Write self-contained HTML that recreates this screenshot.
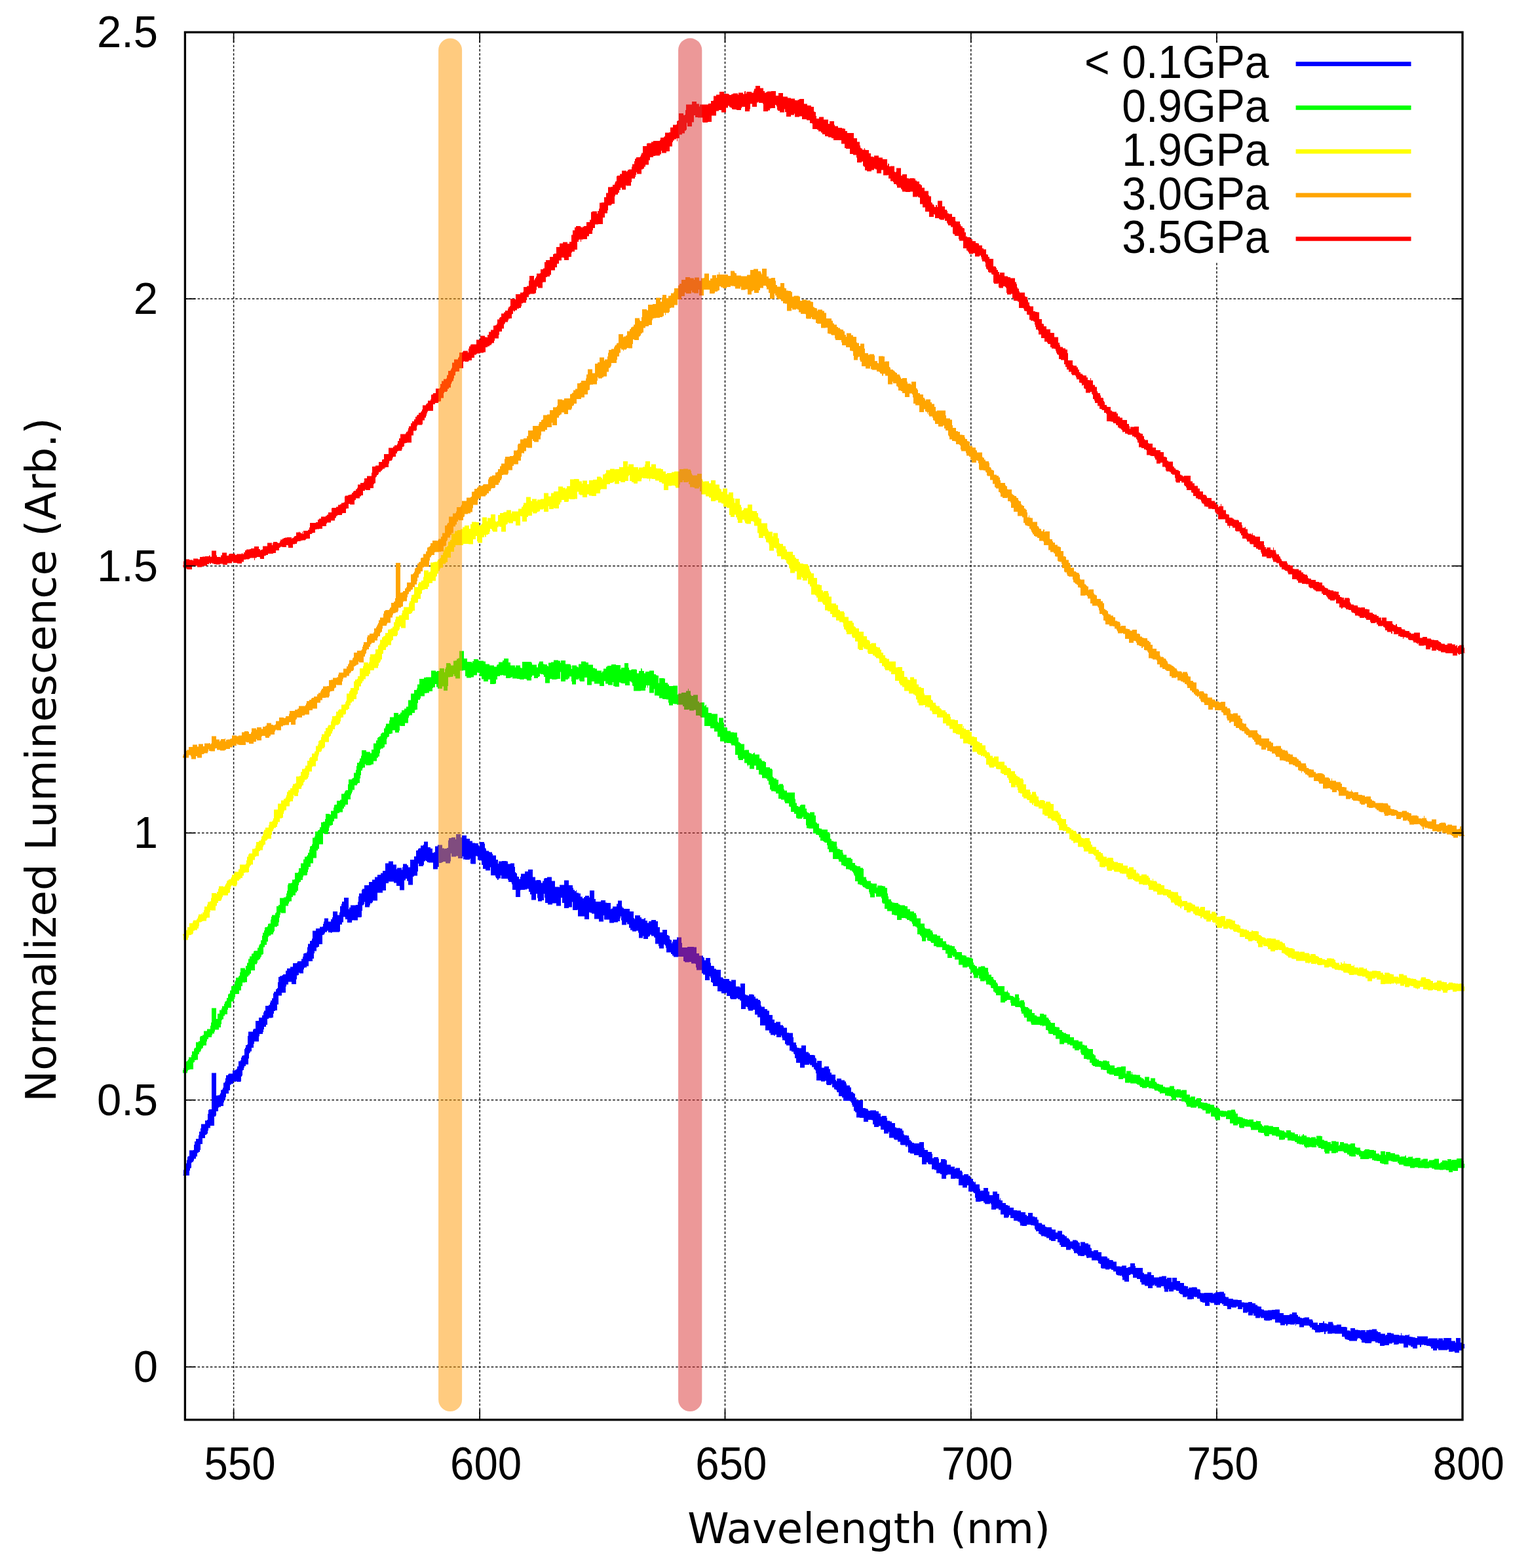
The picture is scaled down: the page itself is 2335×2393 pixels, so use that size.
<!DOCTYPE html>
<html lang="en"><head><meta charset="utf-8"><title>Normalized Luminescence vs Wavelength</title>
<style>html,body{margin:0;padding:0;background:#fff}body{width:2335px;height:2393px;overflow:hidden;position:relative}svg{display:block}.t{font-family:"Liberation Sans",Arial,Helvetica,sans-serif;fill:#000}.l{font-family:"DejaVu Sans","Liberation Sans",Verdana,sans-serif;fill:#000}</style></head><body>
<svg width="2335" height="2393" viewBox="0 0 2335 2393" role="img" aria-label="Normalized luminescence spectra at five pressures">
<rect x="0" y="0" width="2335" height="2393" fill="#fff"/>
<g stroke="#141414" stroke-width="1.5" stroke-dasharray="3.6 2.8" fill="none">
<line x1="356.6" y1="49.2" x2="356.6" y2="2166.8"/>
<line x1="732.2" y1="49.2" x2="732.2" y2="2166.8"/>
<line x1="1106.5" y1="49.2" x2="1106.5" y2="2166.8"/>
<line x1="1481.8" y1="49.2" x2="1481.8" y2="2166.8"/>
<line x1="1856.9" y1="49.2" x2="1856.9" y2="2166.8"/>
<line x1="282.4" y1="2086.2" x2="2232.0" y2="2086.2"/>
<line x1="282.4" y1="1678.8" x2="2232.0" y2="1678.8"/>
<line x1="282.4" y1="1271.3" x2="2232.0" y2="1271.3"/>
<line x1="282.4" y1="863.7" x2="2232.0" y2="863.7"/>
<line x1="282.4" y1="456.1" x2="2232.0" y2="456.1"/>
</g>
<rect x="1650" y="65.5" width="570" height="335.5" fill="#fff"/>
<g fill="none" stroke-width="6.7" stroke-linejoin="bevel" stroke-linecap="butt">
<line x1="1977.6" y1="97.7" x2="2153.5" y2="97.7" stroke="#0000ff"/>
<path fill="#0000ff" stroke="none" d="M279 1793.5h1v-8h1v-2.5h1v-1.5h1v-.5h1v-5.5h1v-5h1v-5h1v-1h2v-9h6v-.5h1v-8h1v-5h2v-4h4v-5.5h1v-5.5h2v-5h1v-6.5h6v-5.5h3v-1h1v-9h1v-6h1v-1h4v-55.5h7v34.5h2v-.5h3v-1h1v-2h1v-5h2v-1h1v-2.5h1v-7.5h2v-2h1v-5h1v-4.5h3v-1.5h1v-1h6v-5h4v-1h2v-1.5h1v-3.5h2v-8h3v-1.5h1v-4h1v-2.5h1v-.5h1v-.5h2v-9.5h1v-2h1v-4h2v-1h1v-13h1v-6.5h7v-3h1v-1.5h3v-12h5v-5h5v-3.5h2v-4.5h1v-2.5h2v-7.5h5v-1.5h2v-3.5h1v-3h2v-3.5h2v-7.5h1v-2.5h3v-3.5h1v-1h1v-1h1v-9h1v-8h2v-1.5h3v-.5h1v-1h1v-1h4v-5.5h2v-3.5h5v-2.5h4v-5.5h6v-1h1v-2h6v-3.5h2v-3.5h1v-4.5h1v-.5h1v-.5h3v-2h1v-7h1v-5h3v-4.5h2v-.5h1v-3h1v-12h5v-3.5h6v-2.5h4v-.5h1v-4h1v-3.5h1v-5h6v5h4v-3.5h2v-3h1v-9h7v5.5h3v-4h1v-9.5h2v-3.5h1v-3.5h3v-6h7v17.5h1v-2.5h2v-3.5h8v-.5h3v-4.5h1v-8.5h1v-4.5h4v-5.5h1v-1.5h3v-5.5h7v-5h5v-3.5h4v-4h4v-3.5h5v-2.5h3v-3.5h4v-11.5h5v-3h7v5h5v7h1v-2h7v3h1v-4h1v-5h6v2h2v3h3v-11.5h6v-5h3v-9h2v-.5h1v-2h1v-1h3v-4h4v-1.5h1v-4.5h6v8.5h4v2h3v6.5h2v-1h2v-9h4v-2h7v5h3v1h1v-.5h3v-1h2v-11.5h1v-3.5h4v-1h6v3h1v-8h7v5h2v-3h7v5h5v3.5h4v3h4v.5h5v3h1v2h1v-7h7v2.5h1v6.5h1v1.5h1v3h4v1.5h1v.5h4v2.5h1v2.5h5v6.5h3v6h1v-3.5h5v-.5h7v.5h2v4h4v-1h6v5.5h1v8h1v1h1v1h1v4.5h1v.5h2v3.5h2v-3.5h1v-4.5h6v-3.5h5v-3h7v11.5h4v5h2v-.5h6v1.5h1v3h2v-3h2v-3.5h1v-1h4v-1.5h7v6h5v9h6v.5h1v-3.5h7v-7h7v7.5h6v4h1v3h2v2h2v-1.5h1v4h3v1h3v5h3v2.5h2v-2h2v-2h6v2.5h1v-10.5h7v13h2v4h8v-2h7v3.5h2v.5h6v9.5h1v-1h2v-3h6v-4h2v-5h6v9h1v2h2v1.5h9v4h6v10h1v1.5h1v-5.5h8v3h2v2.5h4v-1h1v-.5h1v4h3v3.5h2v-2.5h4v-2h7v2h3v9h3v8h4v-4h7v8h2v1h1v.5h1v5h1v1h2v5h1v-2.5h1v-3h6v-3.5h7v8.5h1v7h8v-1h10v.5h4v9.5h4v3.5h6v2.5h1v.5h1v4h2v-3.5h7v7.5h1v4.5h4v.5h1v4h3v1.5h7v11.5h3v1h1v1.5h9v3h2v1h1v-2.5h7v10h6v1.5h1v-6h7v16.5h1v1h3v1h2v-2h6v.5h2v3h2v3h4v2h3v2h1v6.5h1v2h5v3.5h4v2.5h3v6.5h5v7h3v5h2v-1.5h7v5h4v1.5h1v2.5h5v7.5h3v.5h6v6.5h1v8h4v4h1v3.5h1v.5h2v.5h4v-4h7v10h4v2h2v2.5h6v.5h2v4h1v1h1v6.5h1v-3h7v10.5h4v-2h7v4h2v5.5h2v3h6v8h1v2h1v-4h7v2.5h5v2h2v3h1v3h5v3h2v7h3v1.5h1v1h2v6h2v3h1v1.5h2v-.5h7v12h4v1h3v1h1v2h2v.5h1v-1h9v1.5h4v3.5h3v4.5h2v-1h7v3h1v4.5h4v1h3v2.5h5v6.5h2v1h6v1h3v3h2v5.5h1v1.5h4v.5h3v3.5h1v3.5h2v2h2v2h3v1h8v-2h7v9h1v3h5v3h6v3h1v6.5h2v-1.5h7v2.5h1v6h2v-1h1v-4.5h7v1.5h2v7h6v3h6v3.5h1v-1.5h7v4h3v2h1v5h2v-1.5h7v2.5h3v4.5h4v4h1v.5h1v1h1v-1h1v4h6v7h1v3h1v-.5h4v-4h7v5.5h2v5.5h5v-5.5h7v3.5h3v9h1v-2.5h1v3.5h3v4h5v3h3v1h3v3h6v4h5v.5h6v2.5h7v4h2v2h1v-.5h1v-4.5h7v5.5h3v1h4v4h2v5h5v2h1v.5h4v3h2v1h8v3h1v.5h5v4.5h3v-2.5h7v5.5h3v1h1v1.5h3v3h3v1.5h1v1h1v2.5h4v-2h6v1h2v2h1v1h2v5h1v-6h7v2h5v2h3v5h1v.5h1v4h1v.5h2v-1.5h7v3h5v6.5h8v.5h1v2.5h3v2.5h5v.5h1v2h5v7h5v.5h3v-1.5h7v3.5h2v-1h2v-.5h2v-5.5h7v4h1v3h11v7.5h2v2h5v-3h6v4.5h4v3.5h8v-1h4v-1h7v4.5h1v-2h7v6.5h1v-6.5h7v5h5v3h6v4.5h3v.5h3v4h1v-2h5v-.5h7v.5h1v2.5h4v1h1v4.5h1v.5h5v-.5h13v2h1v-1.5h3v-1.5h6v-.5h7v2.5h2v5h1v.5h4v2.5h7v1.5h7v.5h6v3.5h4v.5h6v-1h6v2h5v2.5h3v2h2v.5h4v4h1v.5h3v1.5h6v-.5h6v-.5h5v-.5h7v5.5h6v3h9v-1.5h4v-2.5h7v3.5h1v.5h1v2.5h3v1.5h2v.5h2v.5h1v-1h2v-.5h7v3h5v2h1v3h7v3.5h2v-3h6v-2.5h2v3h3v.5h1v.5h2v-3h7v2.5h1v2.5h5v-1h7v3.5h7v.5h2v5h4v1h1v-4.5h7v2.5h5v.5h3v.5h1v-.5h7v3h1v-3h4v-.5h5v-1h7v3h2v1.5h4v2.5h7v2.5h1v-1h2v-3h6v1h4v2h8v1h3v-3.5h1v3.5h3v.5h2v-1h6v-1h1v3.5h3v.5h3v.5h3v1h3v-3h1v.5h15v4h1v-1h14v2.5h1v-2.5h7v3h1v-3.5h12v4.5h6v2.5h1v-7h7v7h4v2h2v7h-2v2h-1v1h-5v3.5h-7v-2h-3v.5h-6v-3.5h-2v1h-14v-2.5h-2v3h-6v-3h-3v-3h-2v-1h-5v-1h-4v-1h-1v.5h-3v3h-1v.5h-1v-3.5h-4v5.5h-7v-2.5h-3v-2h-3v-1h-1v4h-7v-6h-6v-.5h-1v1.5h-2v.5h-6v-3h-2v1.5h-5v2.5h-7v1h-7v-4h-3v-1h-4v-2h-5v.5h-1v2.5h-10v-1h-5v-4h-1v-1h-1v-1.5h-3v-.5h-1v2h-1v2.5h-12v-1.5h-2v-.5h-2v-.5h-2v-1.5h-1v-2.5h-4v-4.5h-11v-.5h-4v.5h-7v-4h-1v1h-2v3.5h-2v-3.5h-2v.5h-4v.5h-8v-3.5h-2v-1h-3v-3h-3v-2h-1v-1h-8v2.5h-7v-4.5h-5v2h-1v-3h-1v1.5h-7v-.5h-4v2h-1v.5h-1v-2.5h-1v-.5h-1v2h-7v-3.5h-1v-.5h-7v-5h-5v1.5h-3v.5h-7v-.5h-2v-3.5h-5v-2h-1v2h-7v-3.5h-3v-3.5h-1v3h-7v-5.5h-1v1.5h-7v-8.5h-1v3h-7v-4h-2v1.5h-7v-.5h-1v3h-6v-4.5h-1v-.5h-5v-3h-1v1h-1v-2h-3v2.5h-9v-3h-6v-1.5h-1v6h-7v-5h-4v-1h-3v-2h-1v-3h-4v-2.5h-4v-.5h-1v3.5h-3v.5h-7v-4.5h-1v1h-6v-4h-2v-.5h-2v-1.5h-2v-3.5h-4v-1.5h-4v2.5h-7v-3.5h-1v4h-6v-5h-1v-3.5h-4v2h-7v-2.5h-3v-2h-1v1.5h-2v4h-7v-3.5h-5v-2h-5v-3.5h-1v-.5h-1v-4.5h-5v-2h-6v-5h-1v-.5h-2v.5h-1v1h-2v10h-7v-2.5h-3v-5h-1v-2h-1v.5h-2v-.5h-3v-.5h-2v-1.5h-1v-4h-4v-2.5h-3v-1.5h-3v1h-6v-1.5h-6v-1h-1v-6h-2v-1h-2v-3.5h-1v-1h-9v-4h-5v.5h-2v-.5h-1v-3h-1v-1h-2v1.5h-6v-.5h-4v-2.5h-1v-1.5h-5v-3.5h-1v-2.5h-2v-1h-2v2h-7v-4.5h-8v-3h-2v-4h-3v-5h-3v3h-7v-1.5h-3v-3h-4v-2h-3v-1h-5v-2.5h-2v-1h-2v-4h-2v.5h-1v-.5h-1v-2h-1v-1.5h-1v-5h-2v-.5h-4v-1h-6v2h-7v-.5h-3v-4h-1v-2h-3v-1.5h-6v-4h-5v-4.5h-2v2.5h-1v1.5h-7v-5h-5v-7h-3v-2h-4v1.5h-7v-8h-1v-2h-1v1.5h-8v-2h-2v-2.5h-3v.5h-2v.5h-7v-6h-1v-7h-2v-1.5h-1v-1h-7v-9.5h-2v3.5h-7v-3.5h-6v-10h-3v-.5h-2v.5h-7v-6.5h-5v1h-2v5.5h-7v-7h-2v-1.5h-6v-5h-3v-1h-4v-7.5h-5v-1h-1v-2h-2v3h-7v-11h-5v-3h-7v-2.5h-6v-1.5h-3v-8.5h-1v-2.5h-1v2.5h-1v-.5h-1v-2.5h-7v-.5h-1v-4.5h-4v-3h-5v-1h-1v-2h-7v-9h-1v2.5h-7v-6h-5v-5.5h-3v1.5h-7v-4h-2v-6.5h-2v-.5h-5v3h-7v-6h-6v-.5h-5v-8h-2v-2h-2v-6.5h-2v-3h-1v-3h-1v-2h-2v-1h-10v-5h-2v-2h-5v-6h-2v-.5h-1v-3h-1v-.5h-1v-.5h-2v-3h-3v-5.5h-1v2h-7v-1h-1v-5.5h-2v1h-6v-1.5h-7v-11h-1v-4.5h-1v-1.5h-2v-3.5h-3v-3h-3v-2h-1v1.5h-7v4.5h-7v-7.5h-6v-7h-2v-6h-1v-1h-1v-3h-3v-1.5h-3v-8h-5v-2h-2v-5.5h-1v-.5h-3v-4h-1v-3h-1v2.5h-7v-4h-2v1.5h-2v-1h-5v-3h-2v-4h-6v-7.5h-8v-12.5h-4v-4h-4v-7.5h-3v1.5h-7v-2.5h-1v-3h-1v-.5h-2v3.5h-7v-13h-2v-2h-3v-1.5h-2v1.5h-9v-1.5h-1v-3.5h-5v-5h-1v1h-7v-3h-6v-8h-7v-5h-1v-1h-2v-6.5h-1v-2.5h-1v6h-7v-8.5h-3v-2h-2v-5h-8v-4h-1v-5.5h-1v-.5h-6v-2.5h-3v.5h-7v-1.5h-2v-7h-8v.5h-7v-2h-2v-2.5h-2v-2.5h-7v-7h-1v-3.5h-1v-1.5h-2v6h-7v-3.5h-1v-3.5h-5v-9.5h-1v-.5h-1v-2h-4v-2h-2v2h-1v1h-2v3.5h-7v-4.5h-1v3h-6v-8h-1v-3h-3v1h-6v-2h-3v-3.5h-2v-5.5h-3v-3h-1v4h-7v-7h-1v-6h-1v3h-1v4.5h-3v1.5h-6v1h-7v-5h-8v-6.5h-1v9.5h-7v-4h-7v-8h-4v-1.5h-2v-.5h-2v10.5h-7v-4.5h-10v-10h-1v.5h-7v-12.5h-1v8h-5v1.5h-7v-8h-3v-8h-2v12.5h-7v-4h-6v2h-7v-2.5h-4v-8h-1v-6h-1v10h-3v1.5h-6v-5h-1v-6.5h-2v9.5h-7v-8.5h-2v-4h-2v-4.5h-3v1h-3v.5h-6v.5h-1v10.5h-7v-11h-5v-8.5h-1v-3h-1v-.5h-4v-3h-1v-2h-10v-5h-1v4.5h-3v2h-1v.5h-1v-2.5h-2v-2h-1v-2.5h-7v-12.5h-1v5h-7v-2.5h-4v-6h-2v-6.5h-1v-.5h-3v-.5h-2v-5.5h-1v-.5h-2v12h-7v-.5h-1v-7.5h-1v1.5h-7v-.5h-3v-4.5h-1v3h-7v-3.5h-3v1h-7v-5h-1v12h-1v3h-7v-2.5h-4v1h-2v1h-4v6h-2v3.5h-7v-10h-7v-.5h-2v-1.5h-1v-.5h-1v-1h-1v1.5h-2v5.5h-1v2h-7v-4h-1v12h-1v6.5h-5v1h-1v.5h-1v12.5h-7v-6h-2v-3.5h-2v2.5h-2v15h-7v-6.5h-5v-4.5h-4v-2h-8v2.5h-4v11h-5v3.5h-8v12h-7v2.5h-1v1.5h-3v3h-1v3h-7v-8h-1v3.5h-1v1.5h-2v8.5h-1v9.5h-1v.5h-5v4.5h-7v-.5h-1v1h-1v3h-7v-5h-3v-3h-1v-1h-1v.5h-1v8h-2v3.5h-3v10.5h-1v1h-11v.5h-1v1h-1v-1h-4v-2.5h-2v2h-3v2h-1v2h-2v.5h-1v14h-5v4h-2v1h-2v5.5h-3v3.5h-1v8h-2v4h-6v7.5h-3v2h-3v.5h-1v2.5h-1v6h-6v-1h-1v3.5h-1v.5h-2v6h-1v7.5h-7v-3.5h-5v4h-3v3h-1v9.5h-6v4.5h-5v13.5h-2v9h-3v1h-2v4h-1v6h-2v.5h-5v1.5h-2v9h-2v3h-3v4h-1v4h-1v3h-5v3.5h-1v8h-7v3.5h-1v6h-3v5.5h-2v2h-1v1h-1v8h-1v9h-4v2.5h-2v2.5h-1v3.5h-1v.5h-1v8h-1v1.5h-1v7.5h-1v.5h-6v-1h-1v1h-2v-.5h-2v3.5h-3v1.5h-2v8.5h-2v5h-4v5.5h-1v4h-2v4h-1v5.5h-4v1.5h-3v1h-1v5.5h-3v6.5h-1v1.5h-2v14h-6v3.5h-3v4h-1v4.5h-1v1h-1v1h-2v5h-4v9h-3v9h-1v3h-2v1.5h-2v5.5h-2v3.5h-3v3h-1v2h-2v1h-1v8h-1v.5h-1v3.5h-1v7.5h-10z"/>
<line x1="1977.6" y1="164.4" x2="2153.5" y2="164.4" stroke="#00ff00"/>
<path fill="#00ff00" stroke="none" d="M279 1633h1v-3h2v-3h1v-4h1v-3h1v-.5h1v-1h1v-1.5h1v-3.5h4v-3.5h1v-5.5h3v-4h1v-1.5h2v-8.5h4v-1.5h2v-6.5h1v-1.5h3v-1.5h2v-6h5v-3h5v-5h1v-5h1v-22h7v16.5h2v-8h3v-5.5h3v-2.5h1v-3.5h3v-3.5h1v-3h1v-1h1v-.5h1v-4.5h2v-5.5h1v-1h2v-5h2v-6.5h2v-1h3v-5.5h1v-2h1v-4.5h4v-2h1v-1h1v-5h1v-6.5h7v2.5h1v-6h2v-4.5h2v-6h2v-4h3v-4h2v-.5h1v-3h1v-1h5v-4.5h2v-3.5h1v-2h1v-.5h1v-5.5h2v-7h1v-4.5h2v-3.5h1v-4.5h1v-.5h3v-1.5h1v-3.5h1v-.5h3v-6h1v-4.5h1v-2.5h5v-3h1v-1h1v-9.5h3v-2h2v-10.5h6v-1h3v-1.5h1v-4.5h1v-4h1v-9h1v-2.5h5v-1h1v-4.5h3v-.5h1v-10h5v-1.5h1v-5.5h3v-7.5h4v-6h2v-4h3v-1h1v-1.5h1v-3.5h2v-5h1v-4.5h1v-1h2v-2.5h1v-10h3v-2h1v-7.5h4v-2h2v-1h1v-3.5h2v-7.5h3v-1h3v-4h1v-8h6v1h2v-5.5h4v-5h1v-4h1v-.5h3v-6h5v-1.5h2v-9h4v-1h1v-2.5h1v-1.5h1v-.5h3v-9h1v-7.5h5v-1.5h2v-1h1v-7.5h3v-4.5h1v-6h1v-5h3v-2h1v-4.5h2v-4h1v-8.5h7v2.5h6v2h2v-5.5h3v-9.5h4v-4.5h2v-4h1v-1h2v-1.5h2v-3.5h1v-1h1v-1h3v-6.5h2v-3h1v-4h5v-5h1v-5h6v-6.5h7v3h1v-1h2v-2.5h2v-3.5h4v-2.5h3v-3h3v-10h4v-10h5v-5.5h4v-2.5h1v-6h3v-8.5h7v-2h3v-.5h8v-10h7v1.5h2v-1h4v-4h7v6h1v-5h1v-2.5h1v-6.5h6v1h1v2.5h4v-7h3v-.5h2v-2.5h2v-1h2v-11h7v11.5h5v5h7v1.5h1v-2.5h2v-3h7v2h1v.5h7v1h3v4h6v2h7v2h4v-2.5h1v-1h2v-3.5h6v-2.5h2v-3h7v6h3v4.5h7v3h1v-3h7v3.5h1v.5h2v-9.5h14v1.5h1v3h7v4h2v-5h1v-2h1v-2h6v4h2v.5h4v2h1v1h1v-5.5h4v-1h4v-3h7v1h3v3h1v-3.5h7v5.5h7v.5h1v2h1v5h1v-5.5h7v2h2v1h1v-5h4v-4h7v1.5h4v3.5h7v5h3v1h3v3h7v3h1v-2h2v-4h4v-3h2v-1.5h6v-2h7v1h7v6.5h1v-2.5h5v-7h6v7h1v3.5h2v.5h1v-1h1v-.5h7v.5h1v5.5h3v-3.5h3v-4h1v.5h1v3.5h3v3.5h2v-2.5h6v-1.5h7v5.5h3v1.5h2v.5h2v11.5h1v-7.5h7v.5h2v6.5h4v2.5h2v2.5h6v-.5h7v13.5h1v-1.5h5v-1.5h7v-2.5h3v-3.5h1v3.5h3v6h1v1.5h3v-1.5h7v10h2v2h2v-.5h6v5.5h1v-1h1v-1h1v4h3v8.5h5v1.5h9v12h1v1.5h1v-7.5h7v7.5h1v7h4v.5h1v5h5v2h5v.5h5v7.5h2v7h2v1.5h1v.5h1v1h5v9.5h1v-.5h6v4h1v1h3v1.5h2v-1.5h2v-1h1v3h7v6h3v2.5h1v1.5h4v1.5h2v8h6v2h3v1.5h1v11h1v1h1v1.5h4v2h3v8h1v-1.5h6v2h1v6h1v2h4v3h12v10h1v6h2v4.5h2v1h3v-2h1v-1h7v6h2v4.5h1v1.5h2v1h1v.5h1v-2h7v5h2v10.5h1v.5h1v1.5h3v7h1v.5h3v1.5h9v4h3v2h1v8h1v.5h1v3h3v1h5v7.5h1v3.5h3v.5h1v1h4v4.5h1v3h5v4.5h7v2h2v6h4v3.5h2v1h1v.5h5v2.5h4v1.5h1v12.5h4v4h1v2h6v3.5h2v.5h7v6h1v-3h7v.5h2v.5h3v2.5h3v8.5h1v4.5h1v4.5h4v3h1v1h1v1h3v.5h6v2h2v1h1v.5h7v1.5h4v4.5h4v3.5h6v2.5h3v3h1v5h6v8h6v6h1v1.5h2v.5h6v2.5h3v3h1v3h6v2h5v4h4v4.5h5v4h1v1h4v1.5h4v1h4v4h2v2h1v3h8v4.5h1v.5h4v.5h2v2.5h4v.5h4v1.5h2v6h1v3.5h2v1.5h1v.5h2v3.5h2v-2.5h4v-1h6v2h1v.5h4v6.5h1v4h4v3.5h3v3.5h1v1h1v.5h2v3.5h2v2h1v3.5h10v8.5h4v-2h1v2.5h1v1.5h2v4h2v.5h3v1h2v1.5h1v-5h6v5.5h1v5h1v-1.5h6v3h1v6.5h1v1h4v1.5h2v2h4v5.5h4v3.5h3v1.5h1v.5h4v-4.5h6v1.5h4v4.5h3v2h1v2h2v3h1v1h6v6h2v.5h4v.5h1v4h4v3h2v1.5h4v1.5h2v.5h4v4.5h6v4.5h7v2h6v5h3v1h4v4h2v1.5h7v7.5h1v.5h1v1.5h2v5h2v1.5h3v2h3v.5h2v.5h1v-1.5h6v1h4v4.5h1v2h7v4h3v-1h1v-.5h6v-1h7v11h1v-4h7v5h1v-3.5h1v3.5h1v.5h5v.5h6v3.5h2v1.5h3v1.5h1v1.5h1v-5h7v6h2v-4h7v5.5h2v2h1v1h3v1h2v.5h4v3h3v1h7v-2h7v4.5h2v2h1v-1.5h2v-.5h1v.5h4v2h1v-.5h1v-.5h7v7h5v4.5h1v-1.5h7v5.5h2v-3h7v6h1v.5h3v.5h5v.5h1v1h4v1.5h6v3.5h1v1h6v1.5h1v.5h1v2.5h5v.5h4v.5h2v-1.5h6v-1h6v3h1v3h3v5h4v.5h2v.5h2v1.5h3v1h4v1h2v-.5h7v3.5h4v-1.5h2v.5h5v4h1v1h1v2h2v1.5h1v-2h7v1h7v1.5h9v3.5h1v1.5h3v.5h4v2h2v1h1v-3.5h7v3h2v.5h4v2.5h5v3h2v-2.5h1v2.5h1v1h1v-2h2v-2h2v2h4v2.5h5v1h2v-1h7v2.5h1v-4.5h7v.5h2v5.5h3v1.5h5v2h5v3h1v-4.5h7v1h4v6h1v-1.5h1v-4h6v2h6v1.5h4v-1.5h7v5.5h2v1h6v4h1v1h2v.5h1v-.5h2v-1.5h1v-1h7v1h7v1h3v4.5h5v2h2v-5.5h7v5.5h1v-4.5h7v2h7v2h6v1h1v2.5h2v-.5h6v-1.5h2v3.5h3v-1.5h6v-.5h1v3h4v-1h7v.5h1v4h1v-2h3v-1h7v4.5h1v-1h1v-1.5h6v-.5h2v-1.5h7v7h2v-1h1v-1h2v-2.5h7v1h1v-3h6v2h1v-1h7v-2h9v3.5h2v4.5h1v6.5h-10v4.5h-7v-.5h-1v2.5h-6v-3h-4v-1h-4v.5h-6v-.5h-8v-1.5h-4v-1.5h-4v1h-7v-.5h-10v-1h-5v1h-7v-2.5h-7v-.5h-3v-2h-7v-2h-1v-.5h-1v-2.5h-1v.5h-7v-1h-1v.5h-1v-1h-4v5.5h-7v-1h-3v-.5h-2v-.5h-1v-3h-5v-.5h-4v-1h-3v-3h-1v.5h-4v1h-13v-4h-2v-2.5h-4v-1.5h-1v4h-7v-.5h-3v-2.5h-3v-2.5h-5v-2h-2v-1h-1v.5h-6v2h-3v1h-7v-3.5h-3v4h-7v-2.5h-1v-4.5h-5v-1.5h-4v-2.5h-2v-2h-1v3.5h-7v-.5h-4v.5h-4v1.5h-1v-1.5h-2v-2h-1v-2.5h-1v.5h-2v-.5h-4v-1h-4v-2.5h-3v-2h-5v-.5h-6v-4h-4v2.5h-2v.5h-7v-5h-5v-1.5h-6v-2h-4v3h-7v-2h-1v-3h-5v-.5h-3v-.5h-1v-3.5h-11v-4h-1v-1h-7v-.5h-2v2.5h-7v-1h-1v-5h-2v2h-7v-3h-5v-6.5h-6v-4.5h-1v1h-7v-1.5h-1v6.5h-7v-2h-1v-3h-1v-.5h-5v-6.5h-1v2h-7v-5h-5v-2h-2v-1h-5v-3h-2v2h-9v-1.5h-6v-3.5h-1v-3h-2v-1.5h-5v-6h-1v1.5h-1v-1.5h-5v-.5h-1v4.5h-7v-4.5h-1v-1.5h-2v-.5h-4v-.5h-3v-3.5h-6v.5h-2v-2.5h-1v-.5h-1v-.5h-1v-1h-5v-2h-1v-1h-3v-.5h-5v-2h-2v.5h-1v1h-7v-1.5h-3v-1.5h-1v-2h-3v-.5h-1v-1h-1v-.5h-9v-1.5h-1v.5h-7v-7h-3v1.5h-7v-5h-7v-2h-7v-1.5h-3v-1h-1v-4.5h-5v-.5h-4v-4h-2v-.5h-7v-1h-3v-1h-1v-1h-1v-3h-3v-5h-4v-.5h-1v-.5h-4v-6h-1v.5h-1v-1h-2v-3h-1v-5h-2v1.5h-7v-3h-3v-4.5h-4v-1.5h-3v.5h-1v-2.5h-1v-.5h-4v2h-7v-8h-6v-5.5h-4v-2h-5v-.5h-2v-4h-1v-1.5h-3v-6.5h-4v1h-1v-1.5h-4v-1h-13v-2.5h-1v-2.5h-6v-6h-4v-3h-1v-3h-3v-3.5h-1v-5h-1v-1.5h-7v-.5h-1v-1.5h-6v-4.5h-1v-4.5h-5v1h-1v1h-2v2h-7v-11h-7v-3.5h-1v-.5h-1v-1.5h-2v-5h-1v-.5h-2v-.5h-1v-4h-2v-1h-5v-4.5h-1v-2h-1v1.5h-7v-4h-2v-5h-1v4h-7v-5h-1v-3h-4v-5h-1v-1h-1v-3h-3v1h-7v-4h-6v-8h-6v-4.5h-3v-2h-1v4h-7v-6.5h-3v-5.5h-5v-4.5h-9v-1.5h-4v-5h-4v-1.5h-1v-1.5h-3v-.5h-2v-4.5h-2v5.5h-6v-6h-1v-2.5h-2v-2h-4v-10h-1v-1.5h-2v-1h-4v-3.5h-1v-2.5h-1v-1.5h-3v-2h-4v-2h-2v-1h-6v3h-7v-7h-4v-1h-4v-5.5h-7v-3.5h-4v-8h-3v-1.5h-1v-6.5h-1v-2.5h-8v-4.5h-1v-1h-1v6.5h-7v-5h-1v-3h-1v-4.5h-3v-.5h-2v-1.5h-1v-.5h-1v-.5h-2v-1.5h-1v-1.5h-1v-.5h-3v-1h-3v-4.5h-4v-8h-1v-2h-1v-2.5h-1v-2h-1v-.5h-1v-1.5h-3v-1.5h-2v-.5h-4v-4.5h-3v-.5h-1v-1h-3v-5h-1v-.5h-3v-3.5h-1v-.5h-8v-10.5h-6v-4.5h-2v-6h-1v-4h-3v-.5h-1v-1h-1v-.5h-1v-1h-4v-5h-2v-3.5h-2v-.5h-3v-2h-4v-7.5h-7v-.5h-3v-4.5h-1v-9.5h-4v-3.5h-1v1.5h-1v1.5h-7v-1h-2v-6.5h-3v-3h-5v-7.5h-1v-.5h-2v-5h-6v-2.5h-1v-3h-5v-1.5h-4v-8h-4v-3h-2v-.5h-5v-2.5h-2v-7.5h-2v-6h-2v-3h-2v-1h-6v-5h-2v-.5h-3v-7h-4v-6.5h-3v5h-7v-6h-2v2h-1v-2h-1v-3h-4v-6.5h-2v2h-7v-3h-1v-5h-4v-13.5h-1v-1h-5v-2.5h-1v-1h-6v-.5h-4v-2h-6v-7h-4v-8h-5v-5h-6v-3.5h-9v-13h-6v-2h-1v-1h-6v-8.5h-3v1h-7v-2h-1v.5h-7v-5h-2v-2.5h-9v-1h-4v-.5h-2v2.5h-6v-4h-1v-5h-3v-.5h-6v-1.5h-5v-4h-1v.5h-1v-.5h-5v-10h-1v6h-7v-11.5h-2v3.5h-1v-3.5h-2v3.5h-1v4.5h-7v.5h-11v-7.5h-1v-.5h-1v-4.5h-1v-1.5h-2v-1h-1v6.5h-7v-3h-5v-.5h-2v-1h-2v6.5h-7v-1h-2v-6h-1v4.5h-7v-2h-4v-4h-2v7.5h-7v-3.5h-8v-3.5h-4v5.5h-7v-11.5h-4v6h-7v-1.5h-1v-3h-1v1.5h-4v7.5h-6v-4.5h-1v-7.5h-3v3h-2v1.5h-4v3h-7v-14.5h-1v10.5h-4v.5h-2v.5h-7v-1h-2v.5h-1v6h-7v-9.5h-2v-3h-1v-1h-4v-1h-1v4h-1v1h-2v2h-6v-4h-3v2h-1v5.5h-7v-2h-2v-.5h-2v1h-7v-1h-4v-.5h-7v-2.5h-1v1h-2v1h-7v-4h-4v-1h-1v.5h-4v1.5h-4v5h-2v6.5h-2v.5h-7v-7h-3v3h-7v-3.5h-3v-4.5h-3v-5h-2v-.5h-2v4h-5v3h-4v1h-7v-2.5h-2v-9h-3v.5h-5v12h-7v-3.5h-2v-3h-1v3h-1v1h-4v.5h-3v13.5h-1v7h-6v-6.5h-2v3.5h-7v-2.5h-2v-4.5h-2v5h-3v1h-1v5h-5v2.5h-4v.5h-3v4.5h-6v3.5h-1v2h-3v5h-1v10h-2v.5h-2v4.5h-4v3.5h-4v1h-1v3h-1v8h-5v4.5h-7v-.5h-1v7.5h-1v3h-6v-3.5h-4v5h-2v.5h-3v4h-1v1h-2v2.5h-1v8.5h-3v4.5h-2v1.5h-1v.5h-3v1.5h-1v5.5h-1v5h-2v2h-2v5h-5v5h-3v1h-2v.5h-7v-2h-1v5.5h-3v1h-1v3.5h-2v7h-1v5h-1v7h-3v1.5h-1v2h-4v7h-3v3h-1v2.5h-1v2.5h-1v6.5h-4v8h-4v3h-2v3h-2v5.5h-5v1.5h-3v8.5h-5v4h-2v5.5h-2v1h-3v3h-1v5h-1v5h-6v-1.5h-1v-.5h-1v17.5h-6v7h-2v2.5h-2v11.5h-5v8h-4v5.5h-3v4h-1v4h-1v4.5h-1v.5h-5v2.5h-1v4.5h-3v3h-2v1.5h-1v3.5h-1v8.5h-2v2.5h-2v4.5h-4v2.5h-2v6.5h-3v1h-1v2.5h-1v3.5h-4v11h-7v-1h-1v3.5h-1v4.5h-1v7h-1v5.5h-2v1.5h-4v6.5h-1v2h-1v3h-3v.5h-1v1.5h-3v2h-1v7h-2v5h-3v3.5h-2v10.5h-1v1h-2v3h-1v1.5h-1v2.5h-2v1.5h-2v4h-1v2h-3v9.5h-6v5h-2v2.5h-2v2h-2v8.5h-3v.5h-4v5.5h-2v6.5h-3v5.5h-6v5h-1v3h-1v3.5h-4v9.5h-5v3h-1v7h-4v2.5h-2v5h-2v1.5h-1v6h-1v5h-3v3.5h-6v3h-1v3h-3v2.5h-1v3h-5v3h-2v3.5h-1v6h-4v.5h-1v3h-1v1.5h-2v3h-1v2h-2v3.5h-2v8.5h-3v.5h-2v3h-1v.5h-1v10.5h-5v.5h-2v.5h-1v1.5h-1v3h-7z"/>
<line x1="1977.6" y1="231.1" x2="2153.5" y2="231.1" stroke="#ffff00"/>
<path fill="#ffff00" stroke="none" d="M279 1426h1v-1h1v-2h1v-.5h1v-3h3v-4.5h3v-6h5v-2.5h1v-2h5v-1.5h1v-1.5h1v-3h1v-3h4v-1.5h1v1.5h1v-3h2v-3.5h1v-5.5h4v-3h1v-4h3v-1h2v-5h1v-7.5h7v1h1v-3h2v-4.5h1v-4h7v1h1v-.5h1v-1.5h1v-2h1v-1.5h1v-3h1v-1.5h2v-1.5h3v-1.5h1v-2h1v-3.5h3v-2h1v-2.5h6v-4h2v-7h9v-1.5h1v-5h1v-5.5h2v-3.5h1v-1.5h5v-7h3v-.5h1v-.5h1v-4h1v-5.5h4v-2h3v-2h1v-4.5h1v-.5h1v-3h1v-4h1v-2.5h2v-3.5h5v-4h1v-4.5h1v-.5h3v-.5h1v-1.5h1v-3h1v-13.5h6v-9h5v-5h4v-2.5h2v-.5h1v-2h1v-3h1v-5h2v-2.5h3v-3h3v-3.5h1v-3h3v-1h2v-10.5h5v-1h2v-6h2v-4.5h4v-1.5h1v-3.5h3v-7.5h3v-4h1v-1.5h3v-5.5h4v-3h1v-.5h1v-8h3v-2.5h1v-5h1v-1h2v-1h1v-4h1v-4.5h4v-4.5h2v-5h3v-2.5h1v-2h4v-5.5h1v-3h1v-5h5v-1h1v-6h3v-2h1v-1.5h4v-7h4v-.5h2v-3.5h1v-2h1v-11h4v-3.5h1v-1.5h1v-3.5h5v-10h1v-.5h1v-2.5h3v-1h1v-4h3v-12h5v-3.5h1v-5.5h7v2h1v-2.5h1v-7.5h1v-4.5h7v-1h1v-6.5h4v-6h2v-2.5h1v-6h3v-4h2v-1.5h2v-1h1v-4h4v-5h1v-.5h3v-1h1v-.5h2v-2.5h2v-7h2v-4h1v-4.5h5v-2h4v-3h1v-4.5h2v-5h8v-6h1v-3h2v-5h1v-4.5h2v-.5h2v-11.5h6v-5h1v-2.5h4v-2.5h3v-5.5h1v-10h7v3h1v-1h2v-14h4v-.5h2v-.5h4v-1h1v-2.5h1v-.5h2v-1.5h1v-.5h1v-4.5h3v-3.5h1v-3h1v-2h1v-3.5h3v-1.5h2v-6.5h1v-.5h2v-2.5h2v-9.5h5v-4h4v-1.5h5v-1.5h3v-3h3v-2.5h7v5h2v-7h2v-3.5h7v.5h4v5h3v-1.5h1v-1h1v-10h7v6h1v-5h5v-5.5h7v10.5h1v1h1v-1h2v-9.5h3v-3h5v-1h1v-.5h4v-3h7v5h1v-3h10v-4h5v-3h2v-2.5h1v-3.5h4v-9h7v5.5h1v1h1v-3.5h7v3.5h1v-2.5h5v-1h5v-9h7v5h4v-5h4v-2.5h7v-7.5h7v2h4v2h1v-1.5h1v-3h5v-10.5h6v-.5h7v.5h1v3h4v3.5h1v-4.5h7v5.5h3v-6h6v-1h6v-4.5h6v1.5h2v2.5h1v-7.5h3v-1.5h2v-5h6v-2h7v1h1v-.5h6v-3.5h1v.5h5v-9h7v8h1v-3.5h8v4.5h7v3.5h1v-3h6v-1h3v-3.5h1v-5h7v8.5h2v-4h7v6h1v.5h7v1h3v3.5h4v4h1v-.5h1v-1h7v-1.5h4v-1h8v-3.5h6v-.5h7v1h4v2h1v4h1v2h1v1h7v-2.5h7v8h1v2.5h1v1.5h2v-.5h7v3h3v-4.5h7v6.5h6v6h1v1h2v4h2v-5h7v9h2v-3h7v9h2v7h1v-6.5h7v9.5h2v3.5h1v5.5h1v-1h1v-.5h1v-2.5h6v-5.5h7v9.5h1v.5h6v3h2v6.5h2v2h3v7h9v8.5h1v2.5h1v2h6v7h1v-5h7v8h2v7.5h1v1h5v3.5h4v5h2v3.5h9v5h3v4h2v2h4v4.5h2v2.5h5v1h7v2.5h2v5h1v3h1v1.5h1v2h4v7h5v10h4v1h3v8h2v3h1v-2h7v3.5h1v5h4v10.5h7v2.5h3v7h2v.5h1v2h6v2h1v6.5h6v6h6v3h2v5.5h2v1h1v2h5v5h7v7h5v5.5h2v.5h2v2h1v4h1v-1h1v-.5h7v5.5h2v1h4v3.5h2v4.5h3v4h3v4h2v1.5h4v4h10v9h3v-.5h7v6h3v9h4v1h1v3h1v.5h2v.5h1v-4.5h6v3h4v8h3v4h4v1.5h4v8.5h1v2.5h10v7h2v1.5h1v3h4v3.5h1v1.5h5v3.5h2v1h1v2h6v3h2v2.5h4v.5h1v4h1v4h6v1h5v6h7v6h1v-3h1v4h3v2h6v3h3v7h4v1h4v6h1v1h3v2h4v3.5h5v7.5h1v.5h1v2.5h4v2h1v3.5h4v3h2v-2h7v8h9v5.5h3v1.5h1v2.5h5v1.5h1v3.5h6v4.5h2v2.5h2v1.5h3v2h1v.5h4v2h1v7h4v8h6v4h1v4h1v-1.5h1v-3h6v4h1v3h3v5.5h1v1.5h1v-1.5h6v1h2v4h1v-2.5h7v2.5h1v1h4v10.5h7v2.5h2v3h2v5.5h1v.5h1v1h6v8h2v4h3v1h1v1h2v2.5h2v-.5h1v2h4v1.5h1v3h6v3h1v2.5h1v1h2v.5h3v-.5h7v4.5h1v1h1v4.5h2v3.5h6v4.5h4v3h3v2h3v3.5h1v2h5v3h1v-1.5h8v.5h1v4.5h1v1.5h6v1.5h4v.5h4v3.5h7v4.5h2v-2h7v3.5h1v.5h3v5.5h1v-2h1v2h2v.5h1v3h3v-2h8v2h3v3h2v4h3v1h1v-3.5h1v3.5h5v1.5h1v2.5h4v.5h2v2h5v5.5h2v.5h4v1h4v2.5h2v.5h2v.5h7v5h1v1h4v5.5h1v2.5h1v-.5h7v2.5h6v1h1v.5h1v1.5h3v.5h1v2.5h6v3.5h1v-1.5h1v-1.5h7v6h1v-.5h7v5h2v-3h6v2.5h2v5h6v-1h7v7.5h1v-3h7v1h3v1.5h4v5h2v1h4v1.5h2v4.5h1v.5h4v1h5v1.5h3v2h4v-2h2v1h7v.5h2v5.5h3v1.5h2v1.5h1v.5h3v1h2v2h1v-1.5h7v.5h7v2h6v2.5h4v1.5h1v1h3v3.5h1v2.5h4v1h1v.5h5v.5h2v1h2v3.5h7v1.5h1v-1h7v2h7v1.5h1v2.5h1v-2.5h7v.5h1v2.5h3v1h2v2h5v2h4v1h3v-2.5h7v.5h4v1.5h1v.5h1v3.5h1v1h5v3h2v-4h1v.5h1v2h1v-.5h2v-3.5h1v3.5h3v.5h7v3h4v-1.5h1v4h6v2h1v-2h7v2h4v-1h1v3h1v1h2v1h5v-1h7v.5h6v2.5h4v2.5h1v1h1v-3.5h7v.5h1v1.5h3v.5h3v3.5h7v1.5h1v-5.5h7v2h5v3h1v1h4v.5h1v.5h4v.5h4v1.5h2v1h5v-3h1v-2h7v2.5h5v.5h2v2h1v.5h3v3.5h1v-.5h1v-.5h3v-.5h1v-2.5h7v2h4v.5h4v3h1v-.5h1v-.5h1v-1.5h6v1h4v.5h5v1h1v-1h6v1h1v3.5h1v7h-12v1h-6v-3h-4v.5h-3v1h-1v3h-7v-3.5h-2v-1.5h-1v2.5h-6v-1.5h-4v-1h-2v1h-1v.5h-7v-1.5h-7v-4h-5v2.5h-3v1.5h-1v-1.5h-3v-1h-3v-2.5h-3v-.5h-3v2h-7v-4.5h-1v2.5h-6v-3.5h-3v.5h-1v-.5h-1v2h-1v-2h-2v-1.5h-1v1.5h-5v1h-1v-.5h-8v.5h-7v-7h-6v-3h-2v1.5h-5v4h-7v-4.5h-3v-2.5h-5v-1h-6v-.5h-1v-.5h-1v-1h-5v.5h-7v-2.5h-2v-1h-6v-.5h-1v-2.5h-3v-1h-5v-.5h-5v-1.5h-1v-.5h-3v-1.5h-1v-1h-4v1h-7v-4h-4v.5h-6v-1h-1v-1.5h-2v1h-1v-.5h-6v-2.5h-1v.5h-1v.5h-1v1h-1v-1h-5v-3h-14v-3h-6v-.5h-1v-1.5h-5v-2h-1v-1h-2v-1.5h-2v-1.5h-2v-1h-3v-4.5h-4v-1h-1v1h-5v2h-7v-3.5h-4v-3.5h-1v-1h-6v-2.5h-1v4h-7v-5.5h-1v-1h-1v-3h-3v-1h-2v.5h-2v1h-6v-2.5h-1v-1h-4v-3.5h-1v.5h-7v-6.5h-3v-.5h-1v-1h-5v-1h-1v-2.5h-5v-1.5h-2v-1.5h-1v2h-7v-3.5h-2v2h-7v-.5h-1v-5h-1v2.5h-1v-5h-4v-1h-1v-3h-2v2.5h-7v-4h-1v1h-1v-1h-2v-2h-1v-1h-2v2h-2v-3.5h-3v-1h-5v-1.5h-1v-1h-2v-3.5h-2v-.5h-2v2h-6v-3.5h-4v-6h-2v.5h-2v3h-1v-.5h-1v-2.5h-3v-1h-1v-1h-4v-2h-1v-2h-5v-4h-1v-2.5h-3v-2h-2v-2.5h-6v-1h-1v-.5h-1v.5h-7v-4.5h-1v-.5h-5v-2.5h-7v-6h-1v-2h-1v.5h-7v-1h-6v-4h-5v-1h-2v-1.5h-2v-2h-1v1h-7v-3.5h-2v-5h-7v-.5h-3v-2h-1v-.5h-7v-.5h-1v-2.5h-3v1.5h-7v-2h-1v-4.5h-1v-.5h-1v1.5h-7v-.5h-2v-8h-3v-3h-3v-6h-2v-1.5h-1v-.5h-1v-1h-7v-3.5h-7v-5h-1v-2h-8v-6.5h-5v1h-1v-.5h-1v-3.5h-3v-2h-3v-9h-5v-4h-5v-1h-6v-7.5h-1v-.5h-1v-3h-1v-1.5h-2v-2h-6v-2h-1v-1.5h-5v-4h-5v-2h-3v-9h-6v-3h-4v-.5h-2v-.5h-1v-4.5h-1v3h-1v-.5h-1v-2.5h-3v-.5h-1v-4h-3v-.5h-1v-2h-5v-2.5h-2v-5h-3v-1h-3v-4h-1v-4.5h-2v-3.5h-1v3.5h-7v-6.5h-3v-5h-1v-3h-2v-4h-5v-2h-3v-1h-2v-6h-5v-.5h-2v-3.5h-3v1.5h-7v-2h-1v-2.5h-4v-10h-2v-2.5h-3v-1.5h-1v1h-2v-2h-4v-1.5h-2v-3h-7v-9.5h-3v-2h-2v-.5h-2v-1h-7v-7h-5v-6.5h-3v-.5h-3v-1.5h-2v-.5h-3v-6h-5v-5h-5v-3.5h-5v-9h-9v-5h-7v-3.5h-1v-2h-3v-5h-4v-1.5h-1v1.5h-2v-3.5h-3v.5h-7v-4h-2v-5h-2v-6h-2v-1.5h-2v-1.5h-7v-4h-7v-6h-3v-2.5h-3v-2h-1v-1.5h-1v-3.5h-6v-10h-6v-4.5h-1v1h-1v-1h-1v-1.5h-6v-2h-1v-3h-1v-1.5h-3v-4.5h-4v-6.5h-1v-1h-4v-2h-2v-2h-3v-2.5h-7v-2h-1v-5h-3v-1h-3v-2.5h-1v4.5h-6v-1.5h-2v-11.5h-4v-5.5h-4v-2h-1v-4h-1v.5h-7v-4h-1v-2.5h-1v-1h-2v-4h-1v-6h-1v-1h-5v-2.5h-5v-5h-6v-5h-3v-4h-4v-1.5h-4v-8.5h-2v-.5h-1v-2h-1v-2h-7v-6.5h-2v-3h-1v-.5h-1v-1h-6v-12.5h-2v-3.5h-3v-9h-1v3.5h-7v-4h-1v-1.5h-1v4h-7v-12.5h-3v2.5h-7v-6.5h-1v-1.5h-1v-4.5h-1v-1.5h-2v-1.5h-1v-4h-1v-.5h-1v-1h-6v-4.5h-6v-5.5h-1v-6.5h-2v-1h-2v4.5h-7v-10h-1v-2.5h-2v-.5h-2v-4.5h-1v-2h-1v-3h-2v3h-7v-7.5h-2v-11h-5v-5.5h-1v-1.5h-4v4h-7v-1h-2v-3h-1v-2.5h-3v5h-7v-5h-1v-3.5h-2v-4h-2v3.5h-6v-3h-2v-11h-4v-1.5h-5v-5h-3v-1.5h-5v-3.5h-4v1.5h-7v-5.5h-3v-2h-5v-3h-7v-4.5h-2v-7h-1v2.5h-7v-1.5h-2v-.5h-5v-4.5h-2v-4h-1v1h-7v-3h-1v3h-4v3.5h-1v5h-6v-2.5h-1v-1h-5v.5h-5v6.5h-7v-10h-3v-2h-4v-2.5h-6v-2.5h-5v-.5h-3v4h-1v-4h-4v-.5h-6v-1h-1v1.5h-1v4h-6v3.5h-6v-2h-3v-2h-3v-9h-1v1.5h-1v7.5h-5v2h-7v-2h-2v4.5h-7v-4h-1v1.5h-2v1h-4v2h-5v7.5h-9v1h-1v5.5h-6v4h-7v-.5h-4v-2h-3v4.5h-7v-3.5h-4v-1h-2v-4h-2v11h-4v.5h-7v-.5h-2v4h-1v.5h-6v-3h-4v3.5h-2v3.5h-2v6h-7v-1h-1v2h-7v-4.5h-1v8.5h-7v-4.5h-1v1h-5v3h-2v.5h-2v1.5h-1v1h-6v-2.5h-1v6h-6v2h-2v7h-7v-8h-2v-.5h-1v14.5h-7v-6.5h-4v3h-7v-1.5h-1v2.5h-1v1h-2v11h-7v-7.5h-3v-1.5h-1v2h-2v7h-7v-1.5h-1v-2h-1v-1h-2v4.5h-1v3.5h-2v1h-3v3.5h-2v-3h-1v3.5h-3v8.5h-7v-2.5h-1v-8h-2v5h-4v7.5h-7v-.5h-8v2h-12v3h-2v7h-5v9h-5v7h-2v.5h-1v2h-4v6h-4v2h-1v3h-2v4h-2v4h-1v.5h-1v6.5h-5v3.5h-5v5.5h-2v3.5h-5v1h-3v1h-1v5h-1v.5h-1v7.5h-4v5.5h-1v.5h-4v12h-3v1.5h-1v2.5h-2v1h-3v9h-5v12.5h-7v-2.5h-1v.5h-1v4h-1v2h-2v6.5h-1v2h-6v6h-2v1.5h-1v6h-5v2.5h-2v1h-1v4h-4v5.5h-1v.5h-1v8.5h-2v3h-1v2h-2v4.5h-1v3.5h-6v3.5h-6v5.5h-2v3.5h-5v4.5h-3v3h-2v3h-1v.5h-1v4.5h-3v6h-2v5.5h-1v1h-1v7h-4v3.5h-3v2h-2v4h-2v5.5h-2v1.5h-3v6h-1v1h-3v4.5h-3v.5h-1v5.5h-1v3.5h-2v1.5h-1v.5h-4v2h-1v4.5h-3v3h-1v3.5h-2v3.5h-1v1h-1v.5h-1v8h-6v7.5h-1v2h-3v1.5h-1v3h-1v1h-3v4h-1v3h-1v6.5h-2v1h-1v7.5h-5v1h-1v7h-4v5h-1v3.5h-1v2.5h-2v1.5h-3v3h-1v1h-1v4.5h-2v2h-1v3.5h-4v5.5h-1v5.5h-6v-2h-1v5.5h-1v4.5h-4v1h-1v6.5h-5v6h-3v2h-1v3.5h-1v6h-2v1h-3v5.5h-3v3.5h-1v4h-2v1.5h-3v2h-1v3h-2v5.5h-1v6h-5v.5h-1v1.5h-1v1h-2v6h-2v1h-1v2.5h-1v5h-4v1.5h-2v7.5h-4v1h-2v5h-3v7h-3v1.5h-1v.5h-1v2.5h-1v7h-1v.5h-5v.5h-2v4.5h-2v3.5h-3v2h-2v2h-3v6h-1v2.5h-6v-1.5h-1v.5h-1v1.5h-1v4h-1v5.5h-2v.5h-1v3.5h-8v2.5h-1v2.5h-1v2.5h-1v1h-4v3h-2v4.5h-2v7h-7v-.5h-1v3h-1v8.5h-4v1h-1v4h-5v.5h-2v1h-1v.5h-3v6h-1v3.5h-2v2.5h-4v1h-2v4h-1v1.5h-2v1h-3v.5h-1v3.5h-1v3.5h-7v-7h-1z"/>
<line x1="1977.6" y1="297.8" x2="2153.5" y2="297.8" stroke="#ffa500"/>
<path fill="#ffa500" stroke="none" d="M279 1153.5h1v-2.5h1v-3.5h1v-1.5h3v-1.5h3v-4.5h6v-3.5h7v3h2v-4h7v3.5h2v-4.5h7v-.5h1v.5h1v1.5h1v-1.5h1v-11h7v5h5v3h1v-1.5h1v-2h6v-1h1v4.5h1v-2.5h2v-.5h4v-1h2v-.5h1v-4.5h7v1h3v-1h5v-5h4v-1.5h6v1h1v3h3v-2.5h1v-6h7v2h1v-3.5h7v2.5h2v-3.5h4v-1.5h2v-4h7v2.5h3v1h1v-.5h2v-1h1v-5h5v-5.5h7v1h2v-.5h1v-2.5h5v-3.5h1v-4.5h8v-2h4v-1.5h2v-4h10v-1.5h1v-2.5h1v-3.5h4v-2h3v-2h1v-1h3v-2h5v-3.5h2v-2h3v-2.5h1v-2h1v-2h2v-3.5h6v-.5h3v-9h3v-.5h3v-3h6v-1h2v-4h1v-3h7v-6h5v-3.5h2v-3h1v-1.5h1v-5h5v-3h1v-1h1v-7.5h5v-3h6v-.5h1v-1.5h1v-4h1v-3h1v-4h5v-7.5h1v-3h3v-2.5h6v-2h1v-6h3v-2h1v-2h1v-2h1v-2h1v-4.5h2v-4h5v-6h1v-4h2v-1.5h6v-1.5h1v-2h1v-.5h1v-7h4v-2h2v-5h1v-54h7v45.5h2v-.5h2v-2h3v-4h2v-2h1v-7h6v-12.5h3v-1h1v-1h1v-2h1v-5h1v-.5h1v-1h1v-1h1v-5h2v-2h1v-.5h2v-5.5h1v-1h3v-5.5h4v-4h2v-6h2v-1h2v-1.5h1v-4h3v-4h7v.5h1v-1h1v-2h4v-3.5h2v-5.5h4v-11.5h3v-2h1v-2h2v-9.5h6v-5h4v-.5h1v-2.5h1v-6.5h6v-1.5h1v-2h1v-6h7v-5h6v-1h1v-.5h1v-7.5h3v-.5h1v-4h4v-2h2v-2.5h6v-.5h1v-1.5h1v-.5h7v-7.5h1v-3h2v-1.5h3v-1.5h5v-4.5h3v-1h1v-4h3v-4.5h2v-4h5v-7h1v-3.5h7v-1h5v-1h1v-7.5h5v-1h1v-8h1v-1.5h3v-6.5h5v-1.5h5v-3.5h2v-8.5h7v-7h9v-3h1v-3h3v-3h2v-1h1v-6.5h6v-1h4v-6.5h5v-4.5h5v-.5h1v-2h1v-9.5h7v1h3v-2.5h9v-6.5h2v-.5h1v-1.5h2v-4h3v-2h3v-8.5h4v-1h2v-3h7v-3.5h1v-6h2v-8h7v6h4v-14.5h4v-2h3v-7.5h7v5h1v-2h4v-4.5h1v-5.5h1v-4.5h4v-1.5h4v-2.5h1v-2h1v-1.5h2v-2.5h1v-.5h2v-13.5h7v4.5h1v-1h3v-1.5h2v-6.5h4v-3h1v-.5h1v-2.5h2v-1h2v-3h2v-10h7v3h1v1.5h2v-6h1v-12h7v1.5h2v-8.5h7v-1h5v-9.5h7v6h2v-6.5h1v-4h6v5h3v-3.5h3v-.5h1v-3.5h4v-2h1v-5.5h6v-4.5h2v-2.5h3v-6h6v-4h7v1.5h6v2.5h1v-3.5h7v5h3v-4h4v-.5h1v-6.5h7v10.5h2v-3h3v-5h6v4h1v-5h3v-3.5h1v3.5h13v2h4v-7.5h6v2.5h1v1h2v3.5h7v1h9v-2h5v-7.5h5v-1.5h7v3.5h4v2h1v2.5h1v-8.5h7v12h3v3h4v-1h6v4.5h1v6.5h2v2.5h5v-5.5h6v7.5h1v.5h2v3.5h3v.5h4v1.5h2v7h1v.5h1v-1h1v-.5h7v1h2v6.5h3v-1.5h7v1h6v2h3v.5h1v7.5h2v1.5h2v.5h2v4h1v-2h7v2h3v3h3v8.5h8v3.5h2v4h2v2h4v3.5h2v1.5h3v2h2v.5h3v2.5h2v5.5h2v3h1v-5.5h7v3h3v2.5h5v8.5h1v1h3v4.5h2v-3.5h6v7.5h1v7h5v2.5h2v-1h7v2h1v8.5h4v3h1v.5h1v-11h7v.5h2v8h1v-.5h6v8.5h1v1h1v3h4v1.5h2v1.5h1v1h1v1h2v2.5h4v2h1v2.5h1v2h2v-1h7v5.5h1v3h5v1.5h1v-4.5h7v10h1v.5h1v2h1v5h3v2h5v5h2v2h1v2.5h1v-2h7v4.5h2v2.5h4v4.5h2v6.5h2v-1h13v7.5h1v4.5h6v2h3v8.5h1v4h5v5h3v1h3v4.5h4v.5h3v3.5h1v2.5h3v3h1v.5h2v.5h1v6.5h4v2.5h5v4h1v.5h1v3h8v7h1v1h2v3h2v2.5h5v2.5h1v6.5h2v1.5h1v2.5h2v1h2v6.5h4v1.5h3v2.5h2v4.5h1v4h7v3.5h1v1.5h2v4.5h1v.5h6v6.5h1v1h1v1h2v1.5h3v2.5h1v.5h2v3.5h1v1h1v.5h2v4h1v2h2v1h2v4h2v1.5h1v.5h1v4h1v7.5h2v-3h1v3.5h2v.5h3v6h7v6.5h2v2h1v2h3v3.5h3v-2.5h2v4h1v-1h7v11.5h1v.5h3v3h1v2h3v3.5h4v2.5h3v1h2v6h4v8h3v1h1v4.5h4v4.5h2v3h1v4.5h5v5.5h3v1h1v1h2v.5h2v2.5h1v6.5h1v1h6v7h2v1.5h1v1h1v1h2v5.5h1v-1h7v6h1v2h2v1h2v5.5h6v3.5h3v3h2v9h2v1.5h2v1.5h2v4h1v1h3v2h4v2.5h3v5.5h3v1h2v.5h2v2.5h1v4.5h1v-1h7v4.5h3v.5h3v2h1v.5h3v-1.5h7v6h4v1h1v3.5h3v1.5h1v.5h2v.5h5v3.5h1v.5h2v2h2v4h3v6h6v4h5v6.5h1v2h4v.5h1v2h3v1.5h1v2h1v1h1v3h1v1h3v1h2v1.5h2v1h1v.5h1v1h1v1.5h2v.5h1v2.5h1v1.5h6v1h1v2h1v-2h7v2.5h1v3.5h1v1h3v6.5h4v2h1v.5h4v10h3v1.5h1v2.5h1v-.5h6v2h1v1.5h4v.5h1v5.5h7v3h4v1.5h1v1.5h5v1h1v.5h2v-1h7v7.5h3v2.5h4v2.5h1v5.5h1v.5h3v-1h7v3.5h4v4h1v1h2v6.5h2v1h4v5h2v1.5h1v1h1v1h1v1.5h12v4.5h1v1h1v1.5h3v1h1v4.5h12v4.5h3v2h3v5.5h4v-.5h8v4h2v2h4v1h4v2.5h1v2.5h3v1h4v3.5h2v.5h4v2h1v1h2v2.5h3v2h1v2h7v3.5h1v3.5h3v1h1v1h3v.5h4v3h1v1h1v-.5h1v2.5h3v-.5h6v.5h2v1h2v1.5h1v3.5h6v1.5h2v3.5h2v-3.5h1v3.5h6v2h7v2.5h2v5h4v.5h3v5h3v1.5h4v-2.5h1v2.5h2v1.5h2v-.5h6v4h6v1h4v2h2v-.5h7v4.5h2v2h3v1h2v2.5h12v.5h7v2h1v1.5h3v4.5h1v.5h1v.5h4v1h3v.5h1v.5h1v1h1v1h4v.5h1v-1h1v-1h7v2h3v1.5h3v.5h1v3.5h1v-.5h8v1h2v3.5h4v.5h1v-1h3v-3.5h1v3.5h3v3h1v1.5h1v.5h6v-3h7v7.5h4v-1h1v-1h2v-.5h7v1.5h1v3h2v-1.5h7v1.5h7v5.5h3v-.5h2v-3.5h1v-.5h1v4h3v3.5h1v6h1v1.5h-3v3h-1v-3h-2v.5h-2v-1h-2v3h-7v-2.5h-2v-1.5h-2v-1h-6v-2h-7v-4h-1v2h-7v-1h-7v-3.5h-4v-.5h-3v-1h-5v-2h-1v4.5h-1v-.5h-1v-4h-2v-1.5h-1v-.5h-1v-1.5h-2v-.5h-1v.5h-6v.5h-7v-3.5h-1v-2h-2v-2h-1v1.5h-6v-5h-2v.5h-1v2h-7v-5h-1v-1h-1v1h-6v-1.5h-1v1h-1v-.5h-2v1h-6v-3h-1v-2.5h-5v-.5h-1v-.5h-2v-2h-3v-2h-2v-2h-4v.5h-6v-1h-3v-5.5h-3v1.5h-6v-1.5h-2v-3.5h-1v-.5h-2v-.5h-7v-1.5h-2v-2.5h-2v1.5h-7v-5h-11v-7h-1v-1.5h-2v3h-7v-4h-2v-.5h-1v-1.5h-4v.5h-7v-7.5h-6v-2.5h-1v-1.5h-7v-6h-1v.5h-7v-3h-2v-1.5h-3v-2.5h-2v-2h-1v-.5h-2v2.5h-1v-3h-3v-1h-2v-5h-4v-1.5h-1v-1h-3v-1.5h-6v-3.5h-1v-.5h-4v-1.5h-3v-.5h-6v-5h-1v-.5h-5v-3h-1v-2h-5v-3h-3v-1h-4v-5h-2v3h-7v-5.5h-3v-2h-6v-4.5h-2v-3h-2v-1.5h-1v-2h-6v-3.5h-3v-1.5h-1v-1h-2v-3.5h-4v-1.5h-3v-1.5h-1v-2h-5v-3h-3v-6.5h-4v.5h-1v1.5h-1v-.5h-1v-3.5h-3v-3h-1v-5h-5v-3.5h-1v-1h-2v-3h-10v-4.5h-3v3.5h-7v-7h-6v-3.5h-1v-1h-4v-2h-1v-3h-2v-4.5h-1v1.5h-2v-1.5h-1v-.5h-2v-2h-2v-2.5h-1v-.5h-2v-2.5h-2v-.5h-1v-3.5h-4v-4h-1v-2h-3v-2.5h-3v-1.5h-3v-1.5h-5v-5h-2v1h-7v-2.5h-3v-8h-5v-1.5h-2v-1.5h-4v-2.5h-4v-4.5h-4v-6h-1v-1.5h-6v-1.5h-2v-.5h-4v-8.5h-1v-1.5h-1v-2h-3v-.5h-2v-5h-2v2h-2v-3h-3v-1h-1v-.5h-3v-3.5h-1v-2h-1v-1h-3v3h-7v-6h-6v-7.5h-3v-1.5h-1v.5h-7v-3h-1v-2h-1v-2h-3v-3.5h-2v-.5h-6v-2.5h-6v-5.5h-1v-.5h-2v-7.5h-1v-1h-1v-1.5h-4v-5.5h-1v-4h-1v-1.5h-1v-1.5h-8v-3.5h-3v-7.5h-4v-3.5h-1v-1.5h-3v.5h-7v-12h-1v-.5h-3v-4h-2v-1.5h-2v-1.5h-1v-.5h-1v-.5h-1v-4h-1v-4.5h-6v-1h-2v-2.5h-1v-3h-3v-1h-1v-5.5h-3v-6.5h-1v-3h-3v-.5h-2v-1h-1v-6.5h-3v-.5h-1v-4.5h-2v-2h-5v-3h-3v-7.5h-7v-5.5h-1v-1h-6v-4.5h-3v-2h-3v-1h-2v-2.5h-2v-2.5h-1v-1.5h-1v-2.5h-1v-2h-2v-4h-3v-1h-3v-1.5h-1v-2.5h-2v-8.5h-2v-2h-7v-6.5h-6v-6h-4v-8h-1v-2h-4v-5.5h-1v.5h-7v-2h-3v-5.5h-1v-1.5h-2v-5.5h-4v-1.5h-1v-.5h-1v-5h-3v-6h-4v-6h-4v-1h-1v-4.5h-1v-.5h-1v-2.5h-3v-.5h-6v-1h-1v-9.5h-1v-3.5h-1v-.5h-1v-.5h-1v3.5h-7v-4.5h-2v-4.5h-2v-1.5h-4v-4h-1v-3h-7v-2.5h-1v-6h-1v-1h-1v-1h-5v-4.5h-2v-.5h-4v-2.5h-4v-4.5h-1v-1.5h-1v-7.5h-4v-3h-2v-4.5h-2v1.5h-7v-4h-5v-4.5h-1v-1h-2v-4h-1v-2h-5v-2.5h-1v-4h-1v2.5h-1v-2.5h-1v-1h-2v-3.5h-2v4.5h-7v-10.5h-6v-2.5h-3v-9.5h-1v-4.5h-1v-1.5h-4v5.5h-7v-6h-4v-3h-2v-1h-4v-5h-1v-1.5h-2v-4.5h-5v-2.5h-1v4h-7v-13h-4v-3h-3v3h-2v-3h-1v-.5h-2v-2h-1v-1h-4v-2.5h-7v-1h-2v-4.5h-1v3.5h-7v-3.5h-6v-7h-2v-2.5h-1v-5h-2v1h-1v4h-6v-6.5h-1v-7h-1v-.5h-3v-.5h-1v-5h-6v-3h-6v-4.5h-1v-3.5h-9v-2.5h-1v-5h-5v-1h-1v-1h-3v-.5h-2v-9h-3v.5h-7v-6.5h-6v-1h-2v-5.5h-4v-.5h-2v-3h-1v2.5h-7v-.5h-1v-6.5h-1v-.5h-7v-2.5h-3v-4h-2v-1h-2v1h-6v-2.5h-1v4.5h-7v-11h-3v-.5h-3v-3.5h-3v-3h-6v-2.5h-1v-3h-2v-3h-1v8h-7v-9h-2v-5.5h-3v-4h-1v-1.5h-4v3.5h-5v3.5h-2v4h-7v-4h-2v1.5h-2v5h-6v-8h-3v.5h-1v.5h-6v-5h-1v3h-8v-3.5h-2v-.5h-4v-.5h-1v2h-6v2h-6v-1.5h-3v-1.5h-2v6h-1v.5h-2v1.5h-4v2.5h-1v.5h-7v-6h-9v9h-7v-9h-1v5.5h-7v-1h-3v-3h-1v4.5h-8v-1.5h-2v5.5h-5v5h-6v8.5h-5v4h-5v.5h-1v.5h-1v5.5h-1v1.5h-5v3.5h-1v-3.5h-2v5h-2v1.5h-4v1h-6v.5h-3v.5h-2v2.5h-1v7.5h-5v2h-5v2.5h-3v7h-2v1.5h-2v3h-1v1.5h-2v5.5h-7v-1h-2v7h-1v6.5h-6v-.5h-2v1h-1v1.5h-4v2h-1v-2h-3v-2h-1v7h-2v5.5h-3v5h-1v5h-8v4.5h-1v2h-1v1h-2v6h-3v7h-5v1.5h-2v1.5h-6v-2h-1v5.5h-1v5.5h-6v.5h-4v.5h-1v7.5h-1v.5h-2v6.5h-5v4.5h-5v2.5h-7v7h-4v2.5h-1v1h-2v4h-1v2h-5v6.5h-6v-2.5h-4v3h-2v1.5h-2v3.5h-3v11.5h-7v-4h-1v7h-7v4h-3v2.5h-6v6h-1v6h-3v4h-7v-1.5h-2v-3h-1v13.5h-7v-.5h-2v5.5h-3v3.5h-1v-.5h-3v5.5h-1v6h-4v5.5h-7v2.5h-2v6.5h-6v5h-1v2h-7v.5h-2v5.5h-1v2.5h-2v3.5h-2v3.5h-5v4h-1v1h-5v1.5h-1v3h-3v3.5h-3v2.5h-2v2h-7v3.5h-4v2h-1v7.5h-7v5h-1v6h-3v2h-4v1h-5v4h-1v.5h-1v5h-7v-1h-1v3h-2v4.5h-2v3h-3v10h-3v2.5h-1v.5h-1v4h-4v4h-1v1.5h-1v6.5h-1v1h-3v8h-4v.5h-3v.5h-6v.5h-1v4h-4v1h-1v2.5h-2v5h-1v9.5h-8v1h-2v6h-3v3.5h-2v1h-1v5h-2v5.5h-1v5h-3v4h-3v3.5h-1v.5h-2v2.5h-1v.5h-2v3.5h-1v.5h-1v4.5h-1v6h-5v1h-1v7h-1v.5h-2v1.5h-4v5h-1v2h-3v1h-2v.5h-2v2.5h-1v4h-3v8h-5v2h-1v2.5h-6v4.5h-1v5h-2v1.5h-1v5h-3v2h-1v4.5h-4v3h-1v.5h-4v2h-1v.5h-1v3.5h-2v4h-3v1.5h-1v4.5h-1v1.5h-1v3.5h-2v9h-7v-1.5h-1v4.5h-1v.5h-2v1h-1v.5h-1v1h-2v5.5h-1v1.5h-3v2h-1v1.5h-2v4h-4v2.5h-5v2.5h-1v3.5h-1v5.5h-8v-.5h-1v4.5h-2v1h-1v4h-3v.5h-3v1.5h-1v6h-1v2h-5v.5h-5v3.5h-3v4h-5v9h-7v2.5h-5v6.5h-7v1.5h-4v3h-8v2.5h-1v1h-1v7.5h-7v-4h-2v.5h-1v4h-6v.5h-3v1.5h-3v6h-7v-1h-1v1h-1v2h-1v4.5h-6v2.5h-2v2.5h-6v-2.5h-1v-.5h-4v1h-1v6h-7v-2h-1v4h-4v3h-7v-2h-4v-1h-1v5h-10v-.5h-3v-1.5h-1v3h-6v2.5h-4v2.5h-6v1.5h-2v1h-7v-1h-5v-2.5h-2v.5h-1v4h-7v-.5h-2v-2.5h-1v3.5h-1v2.5h-5v.5h-1v1h-3v5.5h-7v-2.5h-2v4.5h-7v-4h-1v-2h-3v4h-9z"/>
<line x1="1977.6" y1="364.5" x2="2153.5" y2="364.5" stroke="#ff0000"/>
<path fill="#ff0000" stroke="none" d="M279 863h1v-6.5h2v-3h7v1h5v1h1v-3h7v1h3v-3.5h4v-.5h4v-.5h6v-1.5h1v.5h1v2h1v-.5h1v-9h7v7h1v2.5h5v.5h1v-3h2v-4h7v4.5h3v-2h1v-1h9v2h2v-1.5h8v-1.5h1v1.5h2v-2.5h2v-3h2v-1.5h5v-.5h2v-1h5v-3h7v4h2v2h1v-1h2v-.5h1v-5h7v-5h7v3.5h1v-3h1v-2h6v1h1v1h1v-.5h2v-2.5h1v-2.5h3v-1.5h2v-1h2v-.5h3v-.5h7v2h1v-1h2v-1.5h1v-1h1v-.5h2v-5.5h4v-1h1v1h2v1.5h2v-2.5h1v3.5h1v-5h7v-1.5h2v-3.5h1v-7h9v-1h3v-4h2v-1.5h3v-3h7v-1.5h2v-1.5h2v-3.5h5v-6.5h1v-.5h6v-1.5h3v-3h3v-1h2v-2h3v-.5h1v-.5h1v-9h1v-1h4v-1h2v-.5h2v-.5h2v-2.5h2v-2h1v-1h3v-2.5h2v-2h1v-5h4v-2.5h5v-2h1v-5h4v-3.5h7v-5h1v-9.5h5v-1.5h5v-5.5h5v-3.5h1v-.5h2v-8h7v-9.5h7v-2h2v-2h4v-2h1v-4.5h2v-4h2v-6.5h8v-1.5h1v-2h2v-2h1v-3.5h1v-3h3v-4.5h2v-3h3v-3h2v-4h2v-2h1v-1h2v-3h3v-1.5h1v-1h1v-2.5h1v-6.5h5v-1.5h1v-1.5h2v-4h4v-2h1v-7h1v-.5h2v-2h4v-7h6v-1.5h1v-5.5h2v-4.5h3v-3h4v-1h1v-5h2v-6.5h3v-.5h1v-2h1v-2h1v-8h3v-5h6v-2.5h1v-1.5h1v-6.5h5v-1.5h1v-1h7v2.5h1v-6h1v-3.5h2v-2.5h1v-.5h8v-7h6v-6h7v2h3v.5h1v-4h2v-4.5h3v-3h4v-6.5h2v-.5h2v-.5h1v-2h1v-6.5h3v-2.5h1v-1h2v-5.5h4v-2h2v-2.5h4v-3h1v-2.5h2v-1.5h1v-11h7v1h1v-8h7v-2.5h4v-1h1v-7.5h5v-1.5h3v-8h1v-7.5h7v6.5h1v-2h1v-1.5h1v-2h1v-4.5h5v-.5h1v-6h4v-1.5h2v-9.5h2v-3h6v-5h5v-4h1v-.5h1v-.5h3v-10h5v-5.5h5v-2h7v2.5h3v-3h3v-10.5h2v-7h3v-4.5h2v-2h7v1.5h2v1h1v-1.5h2v-1h4v-6h5v-3.5h2v-12h2v-1h7v3.5h1v-4h2v-3.5h1v-9h3v-.5h4v-8h3v-6.5h3v-9h5v-.5h2v-3h3v-2.5h1v-2.5h1v-.5h1v-7.5h1v-1h4v-2.5h3v-5h7v1.5h1v-1h1v-2h2v-.5h4v-4h1v-4h3v-4.5h1v-3.5h1v-.5h1v-2h6v-1.5h1v-2.5h1v-2.5h2v-10.5h6v-4h1v-.5h6v-2h3v-1.5h10v-1.5h1v-3.5h5v-1h1v-1h1v-5.5h6v-.5h2v-7.5h4v-4h5v-.5h1v-5h1v-1h2v-11h7v2.5h1v.5h1v-1h1v-7h1v-8.5h9v-4.5h7v3.5h4v4h1v-3h13v-1.5h4v-4h3v-.5h1v-7h4v-2h5v-4.5h7v3h7v1h1v1h3v-1h1v-.5h2v-1h7v2h1v-3h7v2h2v-4h1v-.5h1v4h1v-2.5h1v-.5h7v1.5h3v-3h1v-3h2v-4.5h7v3.5h5v4.5h2v2.5h2v-1h2v-1h6v-.5h7v7h4v-4h7v5.5h7v2h5v1h6v2.5h3v.5h1v-1h2v-.5h1v-1h7v7.5h5v2.5h6v2h4v7h1v1h2v6h1v4h4v-2.5h7v4h7v6.5h2v-4h7v5.5h1v2h5v2.5h6v1h3v.5h2v3.5h3v3h10v8h5v5.5h4v5.5h1v3.5h1v1h2v2h3v-2.5h1v2.5h1v.5h5v5h3v5h4v1h1v-2.5h7v3h6v2.5h7v9.5h1v-3h1v.5h1v4h2v-.5h6v8.5h1v1h1v-1h1v-5.5h7v11.5h2v-2h7v6h3v1h1v-1h7v.5h2v3h2v1.5h4v4h2v1.5h2v4h4v5h6v6.5h1v1.5h3v9.5h1v.5h1v2.5h2v1.5h1v2.5h2v-3h2v3h1v-9.5h7v8.5h4v5h3v2h1v3.5h2v1h5v4.5h5v6.5h1v.5h6v4h1v2.5h1v1h2v2.5h2v.5h1v6h2v6.5h1v-.5h1v1.5h5v3h3v3h5v3h3v.5h2v3h5v4.5h2v1.5h4v7.5h1v.5h2v3.5h2v3h6v11.5h3v.5h1v2h1v3h2v3h2v4h1v-3h7v5.5h5v1.5h4v1.5h7v6h2v3h1v5h1v2h2v4h1v2h8v5.5h1v1h3v4.5h1v4h2v5h1v1h5v7.5h3v1h3v.5h3v10.5h4v7h2v.5h1v3.5h4v4.5h6v5.5h6v6.5h6v8.5h2v3.5h1v3h4v2h4v2h3v5.5h1v11h7v7h1v1h5v2.5h2v3.5h2v4h2v2.5h3v1.5h1v1h5v3h2v4h3v.5h1v-3.5h1v3.5h3v7h3v3h3v6.5h1v2.5h1v.5h3v3.5h1v3.5h3v.5h1v4.5h1v1.5h1v4.5h3v2.5h1v.5h5v5.5h2v1.5h2v.5h5v2.5h2v4.5h3v2h4v3.5h7v6h3v3.5h1v4h1v-3h6v-.5h7v9h1v.5h1v1h2v.5h2v3.5h2v4.5h1v1.5h5v4.5h1v1h6v6h5v4h7v3h5v7h3v1h2v5h2v1.5h7v7.5h2v2.5h2v2h1v.5h2v.5h2v1.5h2v5.5h2v1h2v1.5h2v-1h10v8.5h3v3h3v4h5v4h3v4.5h5v5h3v.5h2v2h1v2.5h7v4.5h5v2.5h2v2.5h1v.5h2v4h1v-1.5h3v-3.5h1v3.5h3v6h4v6h2v.5h2v.5h1v4.5h5v1.5h2v1.5h2v.5h5v1h1v2.5h4v4.5h1v4h4v-1.5h1v3.5h3v5.5h1v1.5h5v1.5h1v-2.5h1v3.5h3v1.5h1v.5h7v7h6v6h1v3h2v3h1v-2.5h6v3.5h2v.5h2v-4h1v4h3v4h1v2.5h4v3h1v.5h1v3h1v1h1v2.5h1v.5h7v2.5h1v2.5h1v.5h3v1h4v5h2v.5h7v2h4v3h3v2.5h2v1h4v2h1v3h1v1h4v2h7v3h5v1h5v4.5h3v2h1v1.5h2v.5h1v.5h2v2h3v1h5v1.5h4v.5h4v5h2v3h2v.5h1v.5h3v3.5h1v-3h7v1h1v5.5h1v2h1v1.5h4v1.5h6v2.5h1v.5h3v.5h1v-.5h6v2.5h4v.5h3v5h5v2h2v1h4v2h3v2.5h4v4.5h1v-4.5h7v5.5h9v4h1v1h1v1h2v.5h1v-2h2v3.5h1v1h5v.5h1v2.5h1v.5h4v2h2v.5h5v2.5h2v1h1v1h1v-.5h3v-1.5h9v8h4v-1.5h7v2.5h6v1.5h1v.5h4v.5h6v1.5h1v.5h1v1h2v1.5h1v1h5v1.5h4v-2h7v1.5h5v2.5h1v-1h1v-.5h1v4h1v-2.5h2v-1.5h7v4h1v7.5h1v.5h-4v1.5h-4v1h-2v-1h-1v-1.5h-1v4h-7v-3.5h-11v-1.5h-7v-2h-4v-1.5h-2v-1h-1v2h-7v-5h-2v3h-7v-6h-3v.5h-7v-.5h-1v-3.5h-1v1.5h-1v-1.5h-2v-1h-4v-2.5h-1v-1h-5v-.5h-1v-.5h-1v-2.5h-3v-1h-4v2.5h-1v-3h-4v-1h-3v-3.5h-1v.5h-6v-4h-1v-1h-1v4h-2v-2.5h-6v-2.5h-3v-3.5h-1v-1.5h-2v-2h-1v.5h-7v-2.5h-2v-3h-2v1h-7v-2h-1v-3h-6v-2.5h-2v-1.5h-1v1h-7v-2.5h-2v-1h-5v-3.5h-2v-1h-3v-1.5h-1v-2.5h-4v-1h-4v-2h-1v-1h-4v1.5h-1v.5h-1v-2h-3v-6h-5v-6h-2v1.5h-7v-1.5h-1v-.5h-2v-1.5h-1v-2h-1v-1h-1v-2h-5v-2h-2v-3.5h-9v-1.5h-2v-1.5h-2v-2h-5v-1h-1v-1h-1v-4h-4v-.5h-6v-1.5h-6v-3.5h-2v-2h-7v-7.5h-6v-2.5h-1v-2.5h-2v-.5h-2v-1h-1v-1h-4v-3.5h-3v-2.5h-1v-3.5h-4v-1.5h-1v-.5h-4v-3h-1v-2.5h-1v-1.5h-1v1.5h-7v-2.5h-7v-4.5h-1v-2.5h-1v-3.5h-4v-1.5h-3v-2.5h-4v-4.5h-5v-1h-1v-3h-4v-3h-1v-1.5h-6v-5h-2v-3h-2v-3h-6v-1h-1v-4.5h-4v-2.5h-1v-.5h-3v3.5h-1v-3.5h-3v-4h-1v-.5h-2v-5.5h-11v-7.5h-2v-1h-1v-1h-1v-2h-1v-4h-4v-.5h-6v-3h-3v-.5h-3v-3h-1v-1.5h-2v-.5h-1v-2.5h-1v-2.5h-1v-1h-4v-1.5h-3v-3.5h-4v-5h-2v-.5h-1v-3.5h-7v-4h-1v-2h-2v-1.5h-1v-4h-4v-2.5h-2v2.5h-6v-1.5h-1v-5.5h-1v-5h-4v-1.5h-2v-2.5h-2v-1h-5v-1.5h-1v-4.5h-1v-1h-4v-6.5h-3v1.5h-6v-6h-2v-2.5h-1v-2.5h-1v-.5h-4v-.5h-2v-1h-5v-7.5h-1v-1h-3v-2h-4v-1.5h-4v-7h-2v-4h-1v-1.5h-1v-2.5h-3v-1.5h-3v-2.5h-7v-1.5h-2v-.5h-1v.5h-1v-3h-2v.5h-2v-3h-1v-1h-1v-1.5h-2v-.5h-1v-1h-2v-3.5h-2v-.5h-1v-2.5h-4v-2h-1v-.5h-3v-.5h-6v-11.5h-1v-1.5h-3v-4h-3v-1.5h-2v-.5h-2v-4.5h-3v-4.5h-4v-3.5h-1v-2.5h-2v-6.5h-1v-1.5h-1v-3h-2v1.5h-7v-6h-2v-1h-1v-5h-1v.5h-1v.5h-1v-4h-2v-.5h-2v-5h-4v-3h-1v-2.5h-1v-1h-5v-1.5h-1v-3.5h-4v-3.5h-3v-4h-2v-4h-2v-6.5h-5v-1.5h-3v-6.5h-2v-1h-1v-2h-1v-3h-1v-3h-2v-.5h-4v-2h-2v-5h-4v-2h-1v-1.5h-4v-5.5h-5v-5.5h-4v-6h-1v-1.5h-3v-4h-1v-3.5h-1v-4.5h-1v-.5h-1v-1h-4v-1.5h-2v-7.5h-3v-.5h-1v-5h-2v-.5h-2v-3h-1v-1.5h-7v-9.5h-2v-1.5h-6v-4h-2v-6.5h-2v1h-6v-2.5h-1v-7.5h-1v-1.5h-1v-1h-3v2.5h-6v-1h-1v-6h-1v.5h-6v-1.5h-1v-12.5h-2v-.5h-1v-2.5h-4v-1h-1v-3h-1v-1.5h-2v-3.5h-1v-6.5h-1v-1.5h-4v-3h-1v-3.5h-1v-2.5h-2v1.5h-7v-5h-3v1h-6v-2h-1v-1.5h-1v-1.5h-2v-3.5h-5v-11.5h-6v-2.5h-1v-5h-6v-2.5h-2v-1h-1v-10h-3v-2.5h-4v-2h-1v-2h-1v-3h-3v-3.5h-1v2h-6v-1h-2v-1.5h-6v-5.5h-1v-.5h-1v4h-7v-8h-6v-6.5h-4v-5h-4v-10h-2v-.5h-1v-1.5h-1v1h-7v-8h-4v.5h-7v-.5h-5v-3h-1v-1h-1v-2h-6v-3.5h-1v-2h-4v-3h-1v-1.5h-4v-4h-3v-5.5h-1v.5h-7v-8h-3v5h-7v-6h-2v-1h-2v2h-4v2h-7v-1.5h-3v-5.5h-2v-1.5h-1v-6.5h-2v1.5h-7v-7.5h-1v-4h-5v-1.5h-5v-8h-6v-1h-2v-6.5h-5v-5.5h-12v-3h-3v-1.5h-5v-1.5h-5v-3h-4v-2.5h-2v-2h-4v-2.5h-2v-1h-7v-8.5h-1v-.5h-3v-4.5h-5v-1.5h-7v-4.5h-4v1h-7v-5h-1v2h-5v2.5h-7v-7h-2v-4.5h-1v5h-7v-2.5h-3v-1.5h-1v-5h-1v-2h-1v-.5h-1v5h-6v.5h-2v3h-3v1.5h-7v-11.5h-1v-1.5h-6v-1.5h-1v1h-2v6.5h-7v-4.5h-3v8h-1v3.5h-7v-7h-5v2h-1v3h-7v-1h-6v-.5h-1v-2h-2v-1h-2v-2h-2v3h-3v7h-7v-3.5h-4v1.5h-4v7h-7v9.5h-6v1h-7v-.5h-1v-7h-7v-.5h-4v-3h-2v10.5h-3v6.5h-7v-5.5h-1v10.5h-1v1.5h-2v4h-4v2h-4v5.5h-3v4.5h-1v-4.5h-1v1.5h-3v2h-2v2.5h-1v6.5h-4v7.5h-5v2.5h-7v-3.5h-1v5.5h-2v2h-7v.5h-3v2h-5v4.5h-2v7h-5v3h-2v3h-2v1h-2v7h-7v-2.5h-1v4h-1v3h-1v2.5h-5v5.5h-1v5.5h-7v-.5h-1v6.5h-6v-3h-2v3.5h-2v4h-1v.5h-1v2.5h-4v2.5h-1v11.5h-4v1h-1v1.5h-5v7.5h-1v4.5h-4v6.5h-3v10h-7v.5h-5v5.5h-3v3.5h-1v5.5h-5v3.5h-3v4.5h-6v.5h-3v3.5h-1v-3.5h-2v.5h-1v3h-2v12h-4v3h-4v1.5h-1v6.5h-4v5h-7v-3.5h-1v-.5h-3v4.5h-4v5h-3v5.5h-3v4.5h-6v7h-2v2.5h-4v1h-2v7.5h-4v.5h-1v8.5h-7v-2h-2v5h-1v5h-2v1h-7v1h-2v4h-3v4.5h-1v4h-5v1h-2v4.5h-1v2.5h-3v1h-3v2.5h-3v1.5h-1v.5h-1v-1.5h-1v5h-1v.5h-1v6.5h-3v.5h-2v2.5h-1v2.5h-4v2h-1v1.5h-1v6.5h-3v4.5h-4v5h-1v5.5h-6v3.5h-1v3.5h-3v1h-1v2h-2v.5h-1v1.5h-3v1.5h-3v7.5h-3v1h-6v1h-4v.5h-1v1.5h-3v4.5h-4v4h-4v.5h-1v1.5h-6v-1h-1v1h-1v10h-6v5h-5v.5h-1v5.5h-2v4.5h-1v4h-2v2h-1v2.5h-1v5.5h-3v2h-2v3.5h-1v1h-4v2h-1v7.5h-4v5h-2v.5h-2v2h-5v2h-3v10h-8v1.5h-1v2.5h-1v3.5h-1v3h-2v4h-3v6h-1v1h-7v2h-1v6h-1v1h-4v7h-3v11h-7v.5h-2v.5h-2v4.5h-1v1h-2v3.5h-1v2.5h-5v.5h-1v.5h-1v3h-2v5h-4v1.5h-1v3h-1v1.5h-2v.5h-2v4h-1v5.5h-4v.5h-2v2h-3v1.5h-1v1.5h-2v2h-3v3h-1v1.5h-2v2.5h-1v1h-1v9h-2v1.5h-1v6h-5v3h-7v-1h-1v2h-3v7h-3v1.5h-2v3h-6v2.5h-1v.5h-1v6.5h-7v-1h-2v7h-3v.5h-1v6.5h-5v.5h-1v2.5h-7v1.5h-2v2.5h-1v1h-1v3.5h-6v3h-6v1.5h-1v4h-6v4h-5v.5h-4v.5h-2v5h-3v.5h-2v1.5h-3v7h-5v.5h-1v1h-1v1h-5v1h-1v-1h-1v1.5h-5v1.5h-1v2.5h-3v.5h-3v5.5h-7v-3.5h-1v-.5h-2v3h-6v-.5h-3v1h-1v.5h-1v4h-5v4h-4v1h-8v2h-3v1h-2v.5h-1v4.5h-6v-2.5h-1v-.5h-4v1h-1v.5h-2v3.5h-1v-3.5h-6v.5h-1v1h-1v.5h-5v.5h-3v3.5h-3v2.5h-7v-1h-6v-2h-2v2.5h-7v2.5h-7v-1.5h-4v1h-7v-.5h-3v-1h-2v-.5h-1v-.5h-1v1.5h-2v-1.5h-1v2h-3v2.5h-5v.5h-1v.5h-2v1h-7v-2h-5v.5h-2v.5h-1v4.5h-7v-.5h-1v-1h-4v-1h-1v-2h-1z"/>
</g>
<g stroke="#000" stroke-width="1.7" fill="none">
<line x1="356.6" y1="49.2" x2="356.6" y2="64.9"/>
<line x1="356.6" y1="2166.8" x2="356.6" y2="2151.1"/>
<line x1="732.2" y1="49.2" x2="732.2" y2="64.9"/>
<line x1="732.2" y1="2166.8" x2="732.2" y2="2151.1"/>
<line x1="1106.5" y1="49.2" x2="1106.5" y2="64.9"/>
<line x1="1106.5" y1="2166.8" x2="1106.5" y2="2151.1"/>
<line x1="1481.8" y1="49.2" x2="1481.8" y2="64.9"/>
<line x1="1481.8" y1="2166.8" x2="1481.8" y2="2151.1"/>
<line x1="1856.9" y1="49.2" x2="1856.9" y2="64.9"/>
<line x1="1856.9" y1="2166.8" x2="1856.9" y2="2151.1"/>
<line x1="282.4" y1="2086.2" x2="298.1" y2="2086.2"/>
<line x1="2232.0" y1="2086.2" x2="2216.3" y2="2086.2"/>
<line x1="282.4" y1="1678.8" x2="298.1" y2="1678.8"/>
<line x1="2232.0" y1="1678.8" x2="2216.3" y2="1678.8"/>
<line x1="282.4" y1="1271.3" x2="298.1" y2="1271.3"/>
<line x1="2232.0" y1="1271.3" x2="2216.3" y2="1271.3"/>
<line x1="282.4" y1="863.7" x2="298.1" y2="863.7"/>
<line x1="2232.0" y1="863.7" x2="2216.3" y2="863.7"/>
<line x1="282.4" y1="456.1" x2="298.1" y2="456.1"/>
<line x1="2232.0" y1="456.1" x2="2216.3" y2="456.1"/>
</g>
<rect x="282.4" y="49.2" width="1949.6" height="2117.6" fill="none" stroke="#000" stroke-width="3.3"/>
<line x1="687.1" y1="76.4" x2="687.1" y2="2136.0" stroke="#ff9800" stroke-opacity="0.5" stroke-width="36" stroke-linecap="round"/>
<line x1="1053.2" y1="76.4" x2="1053.2" y2="2136.0" stroke="#da3232" stroke-opacity="0.5" stroke-width="36.2" stroke-linecap="round"/>
<g class="t" font-size="67.0">
<text transform="translate(241.0,2109.1) scale(1.0,1.03)" text-anchor="end">0</text>
<text transform="translate(241.0,1701.7) scale(1.0,1.03)" text-anchor="end">0.5</text>
<text transform="translate(241.0,1294.2) scale(1.0,1.03)" text-anchor="end">1</text>
<text transform="translate(241.0,886.6) scale(1.0,1.03)" text-anchor="end">1.5</text>
<text transform="translate(241.0,479.0) scale(1.0,1.03)" text-anchor="end">2</text>
<text transform="translate(241.0,72.1) scale(1.0,1.03)" text-anchor="end">2.5</text>
<text transform="translate(366.0,2258.0) scale(0.976,1.055)" text-anchor="middle">550</text>
<text transform="translate(741.6,2258.0) scale(0.976,1.055)" text-anchor="middle">600</text>
<text transform="translate(1115.9,2258.0) scale(0.976,1.055)" text-anchor="middle">650</text>
<text transform="translate(1491.2,2258.0) scale(0.976,1.055)" text-anchor="middle">700</text>
<text transform="translate(1866.3,2258.0) scale(0.976,1.055)" text-anchor="middle">750</text>
<text transform="translate(2241.4,2258.0) scale(0.976,1.055)" text-anchor="middle">800</text>
</g>
<g class="t" font-size="67.0">
<text transform="translate(1936.6,119.4) scale(0.988,1.05)" text-anchor="end">&lt; 0.1GPa</text>
<text transform="translate(1936.6,186.1) scale(0.988,1.05)" text-anchor="end">0.9GPa</text>
<text transform="translate(1936.6,252.8) scale(0.988,1.05)" text-anchor="end">1.9GPa</text>
<text transform="translate(1936.6,319.5) scale(0.988,1.05)" text-anchor="end">3.0GPa</text>
<text transform="translate(1936.6,386.2) scale(0.988,1.05)" text-anchor="end">3.5GPa</text>
</g>
<text class="l" font-size="64.1" x="1326.2" y="2354.8" text-anchor="middle">Wavelength (nm)</text>
<text class="l" font-size="64.1" text-anchor="middle" transform="translate(85.1,1159.6) rotate(-90)">Normalized Luminescence (Arb.)</text>
</svg></body></html>
